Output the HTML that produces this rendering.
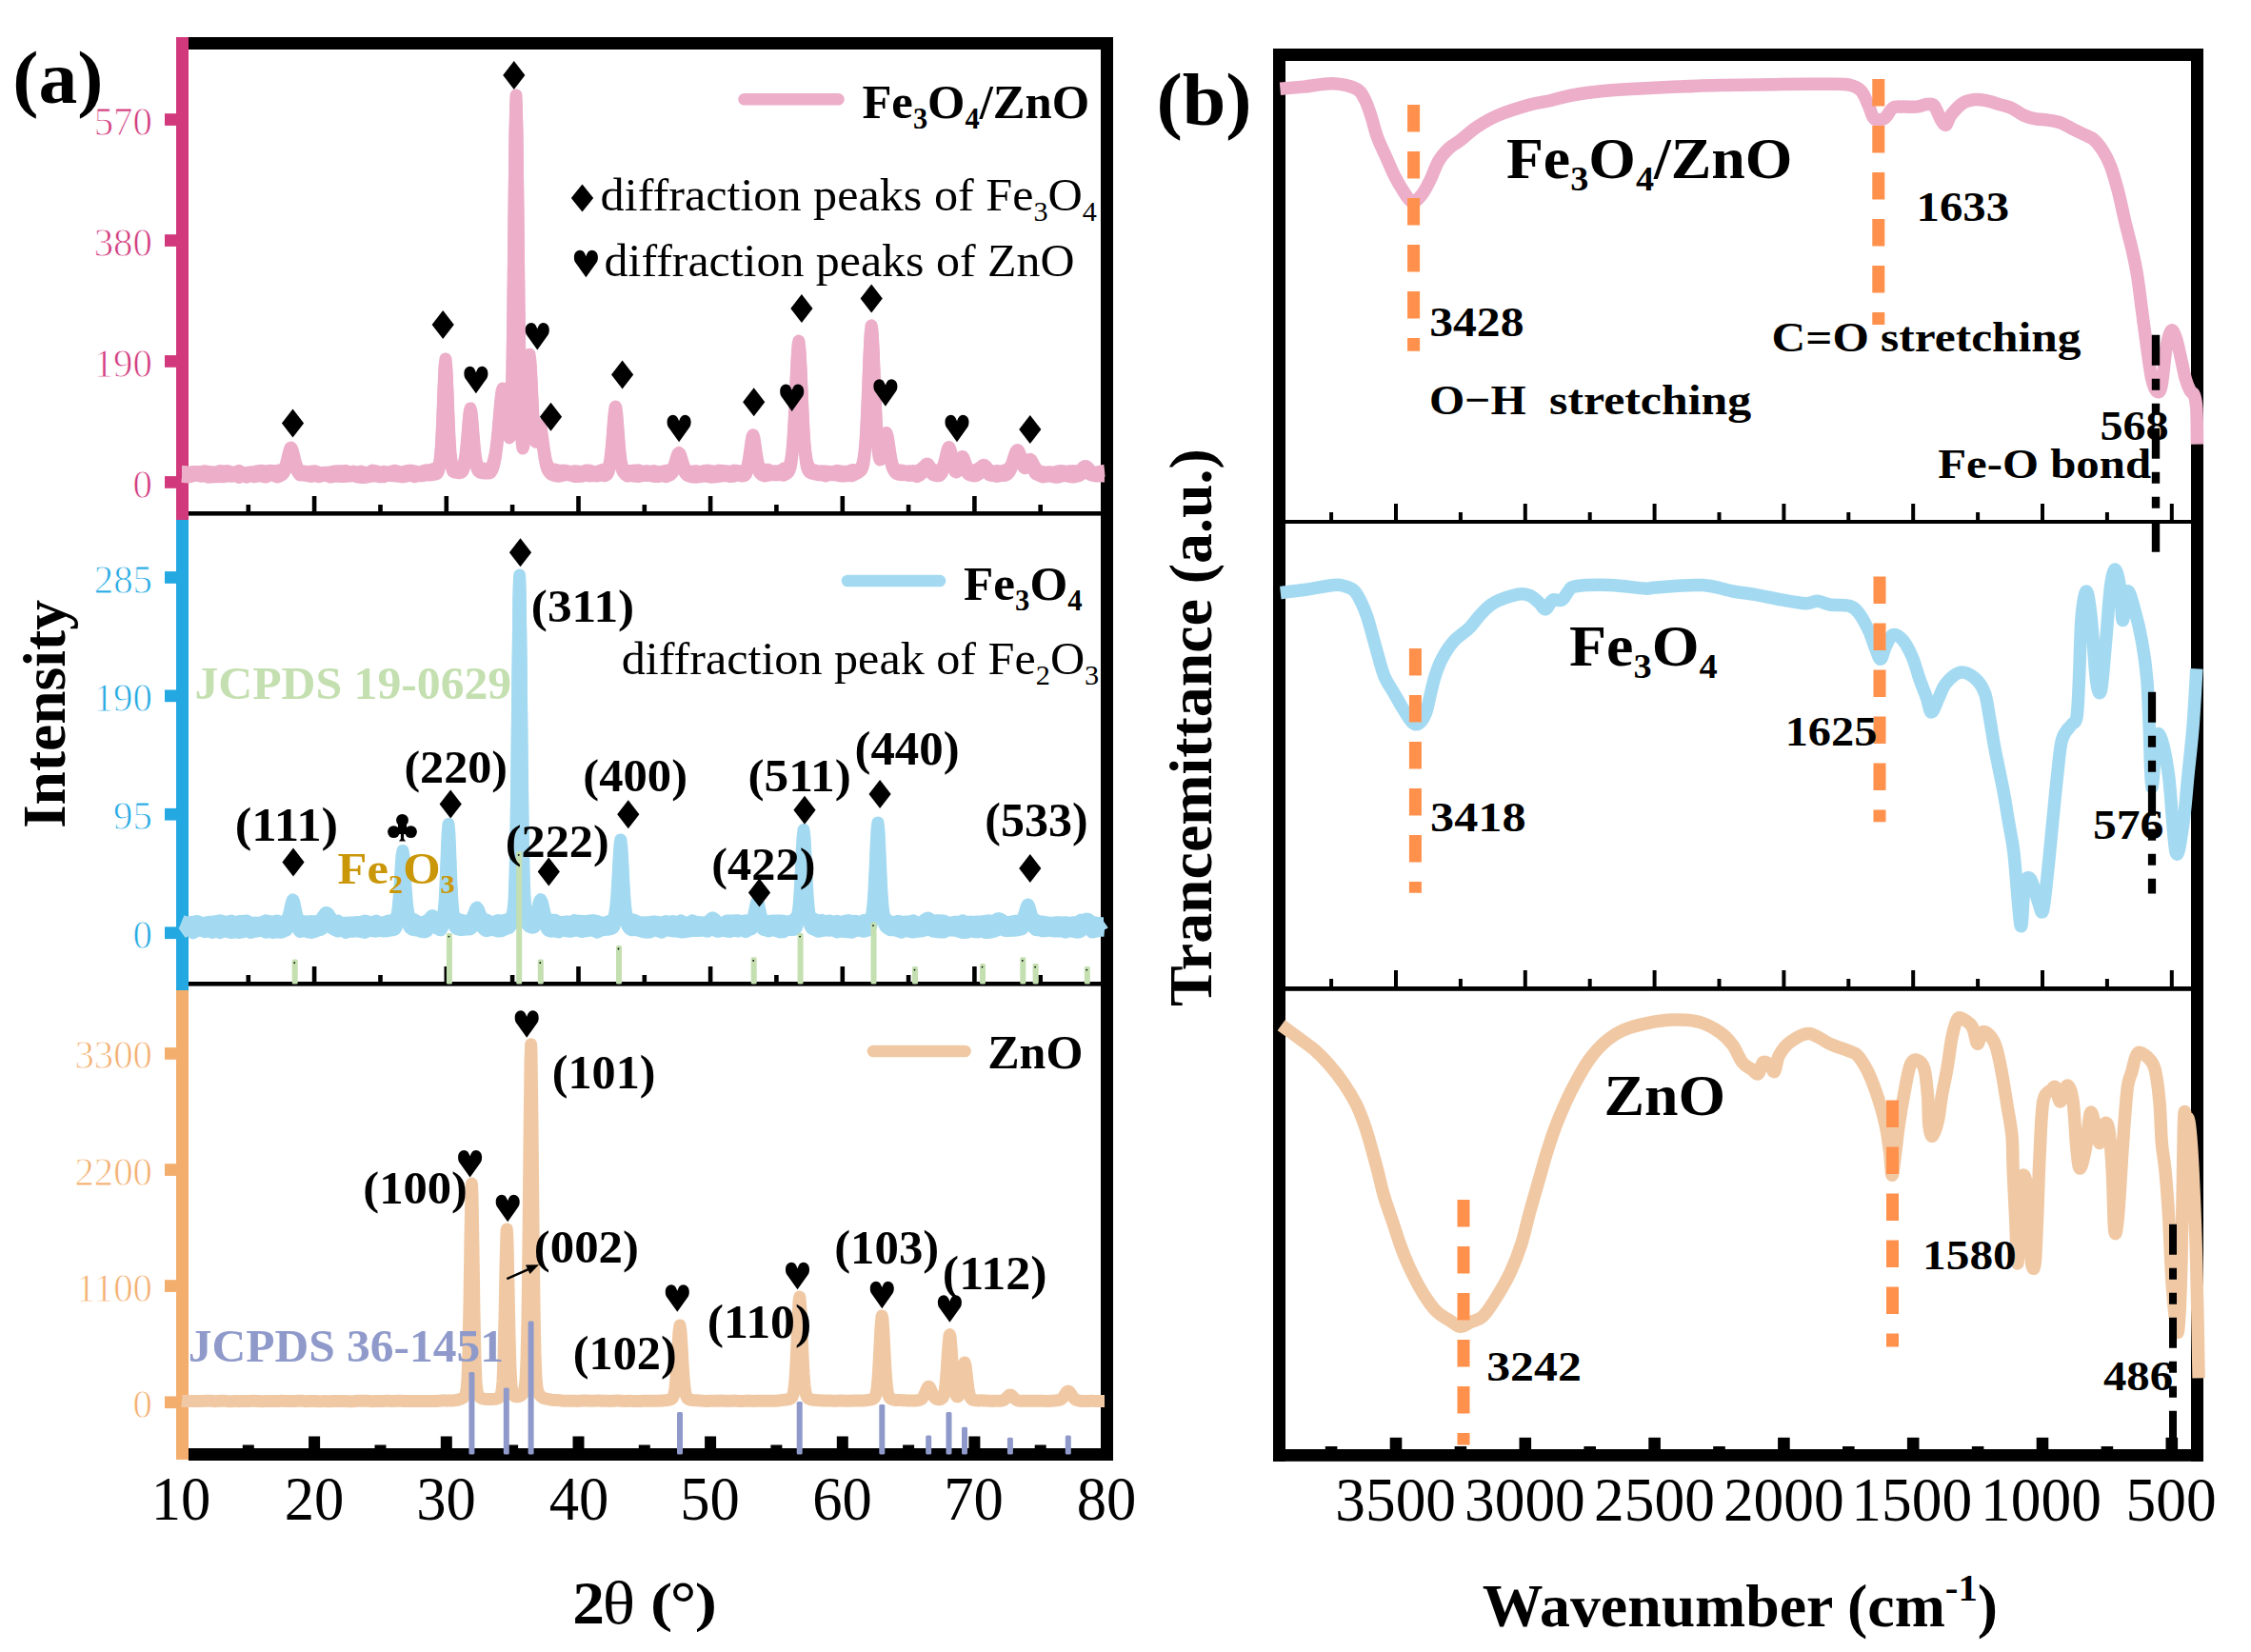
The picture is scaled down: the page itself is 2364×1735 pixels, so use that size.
<!DOCTYPE html>
<html><head><meta charset="utf-8"><style>
html,body{margin:0;padding:0;background:#fff;}
body{width:2364px;height:1735px;overflow:hidden;}
svg{display:block;}
text{font-family:'Liberation Serif',serif;}
</style></head><body>
<svg width="2364" height="1735" viewBox="0 0 2364 1735">
<rect width="2364" height="1735" fill="#fff"/>
<rect x="185.0" y="39.0" width="13.0" height="507.0" fill="#D1397C"/>
<rect x="185.0" y="546.0" width="13.0" height="494.0" fill="#23A8E2"/>
<rect x="185.0" y="1040.0" width="13.0" height="493.0" fill="#F3AE6E"/>
<rect x="173.0" y="119.2" width="12.0" height="12.7" fill="#D1397C"/>
<text x="98.7" y="141.5" font-size="42.0" font-weight="normal" fill="#D1397C" textLength="61.1" lengthAdjust="spacingAndGlyphs" stroke="#fff" stroke-width="0.9">570</text>
<rect x="173.0" y="246.2" width="12.0" height="12.7" fill="#D1397C"/>
<text x="98.7" y="268.5" font-size="42.0" font-weight="normal" fill="#D1397C" textLength="61.1" lengthAdjust="spacingAndGlyphs" stroke="#fff" stroke-width="0.9">380</text>
<rect x="173.0" y="373.1" width="12.0" height="12.7" fill="#D1397C"/>
<text x="98.7" y="395.5" font-size="42.0" font-weight="normal" fill="#D1397C" textLength="61.1" lengthAdjust="spacingAndGlyphs" stroke="#fff" stroke-width="0.9">190</text>
<rect x="173.0" y="500.1" width="12.0" height="12.7" fill="#D1397C"/>
<text x="139.5" y="522.5" font-size="42.0" font-weight="normal" fill="#D1397C" textLength="20.4" lengthAdjust="spacingAndGlyphs" stroke="#fff" stroke-width="0.9">0</text>
<rect x="173.0" y="600.1" width="12.0" height="12.7" fill="#23A8E2"/>
<text x="98.8" y="622.5" font-size="42.0" font-weight="normal" fill="#23A8E2" textLength="61.1" lengthAdjust="spacingAndGlyphs" stroke="#fff" stroke-width="0.9">285</text>
<rect x="173.0" y="724.5" width="12.0" height="12.7" fill="#23A8E2"/>
<text x="98.7" y="746.9" font-size="42.0" font-weight="normal" fill="#23A8E2" textLength="61.1" lengthAdjust="spacingAndGlyphs" stroke="#fff" stroke-width="0.9">190</text>
<rect x="173.0" y="848.9" width="12.0" height="12.7" fill="#23A8E2"/>
<text x="119.1" y="871.3" font-size="42.0" font-weight="normal" fill="#23A8E2" textLength="40.7" lengthAdjust="spacingAndGlyphs" stroke="#fff" stroke-width="0.9">95</text>
<rect x="173.0" y="973.4" width="12.0" height="12.7" fill="#23A8E2"/>
<text x="139.5" y="995.7" font-size="42.0" font-weight="normal" fill="#23A8E2" textLength="20.4" lengthAdjust="spacingAndGlyphs" stroke="#fff" stroke-width="0.9">0</text>
<rect x="173.0" y="1100.1" width="12.0" height="12.7" fill="#F3AE6E"/>
<text x="78.4" y="1122.4" font-size="42.0" font-weight="normal" fill="#F3AE6E" textLength="81.5" lengthAdjust="spacingAndGlyphs" stroke="#fff" stroke-width="0.9">3300</text>
<rect x="173.0" y="1222.2" width="12.0" height="12.7" fill="#F3AE6E"/>
<text x="78.4" y="1244.5" font-size="42.0" font-weight="normal" fill="#F3AE6E" textLength="81.5" lengthAdjust="spacingAndGlyphs" stroke="#fff" stroke-width="0.9">2200</text>
<rect x="173.0" y="1344.2" width="12.0" height="12.7" fill="#F3AE6E"/>
<text x="79.9" y="1366.6" font-size="42.0" font-weight="normal" fill="#F3AE6E" textLength="80.0" lengthAdjust="spacingAndGlyphs" stroke="#fff" stroke-width="0.9">1100</text>
<rect x="173.0" y="1466.4" width="12.0" height="12.7" fill="#F3AE6E"/>
<text x="139.5" y="1488.7" font-size="42.0" font-weight="normal" fill="#F3AE6E" textLength="20.4" lengthAdjust="spacingAndGlyphs" stroke="#fff" stroke-width="0.9">0</text>
<rect x="198.0" y="39.0" width="971.0" height="13.0" fill="#000"/>
<rect x="1156.0" y="39.0" width="13.0" height="1494.0" fill="#000"/>
<rect x="198.0" y="537.0" width="958.0" height="4.6" fill="#000"/>
<rect x="258.5" y="530.0" width="4.6" height="7.0" fill="#000"/>
<rect x="327.8" y="521.0" width="4.6" height="16.0" fill="#000"/>
<rect x="397.2" y="530.0" width="4.6" height="7.0" fill="#000"/>
<rect x="466.5" y="521.0" width="4.6" height="16.0" fill="#000"/>
<rect x="535.8" y="530.0" width="4.6" height="7.0" fill="#000"/>
<rect x="605.2" y="521.0" width="4.6" height="16.0" fill="#000"/>
<rect x="674.5" y="530.0" width="4.6" height="7.0" fill="#000"/>
<rect x="743.8" y="521.0" width="4.6" height="16.0" fill="#000"/>
<rect x="813.1" y="530.0" width="4.6" height="7.0" fill="#000"/>
<rect x="882.5" y="521.0" width="4.6" height="16.0" fill="#000"/>
<rect x="951.8" y="530.0" width="4.6" height="7.0" fill="#000"/>
<rect x="1021.1" y="521.0" width="4.6" height="16.0" fill="#000"/>
<rect x="1090.4" y="530.0" width="4.6" height="7.0" fill="#000"/>
<rect x="198.0" y="1031.0" width="958.0" height="4.6" fill="#000"/>
<rect x="258.5" y="1024.0" width="4.6" height="7.0" fill="#000"/>
<rect x="327.8" y="1015.0" width="4.6" height="16.0" fill="#000"/>
<rect x="397.2" y="1024.0" width="4.6" height="7.0" fill="#000"/>
<rect x="466.5" y="1015.0" width="4.6" height="16.0" fill="#000"/>
<rect x="535.8" y="1024.0" width="4.6" height="7.0" fill="#000"/>
<rect x="605.2" y="1015.0" width="4.6" height="16.0" fill="#000"/>
<rect x="674.5" y="1024.0" width="4.6" height="7.0" fill="#000"/>
<rect x="743.8" y="1015.0" width="4.6" height="16.0" fill="#000"/>
<rect x="813.1" y="1024.0" width="4.6" height="7.0" fill="#000"/>
<rect x="882.5" y="1015.0" width="4.6" height="16.0" fill="#000"/>
<rect x="951.8" y="1024.0" width="4.6" height="7.0" fill="#000"/>
<rect x="1021.1" y="1015.0" width="4.6" height="16.0" fill="#000"/>
<rect x="1090.4" y="1024.0" width="4.6" height="7.0" fill="#000"/>
<rect x="198.0" y="1521.0" width="971.0" height="13.0" fill="#000"/>
<rect x="254.8" y="1517.5" width="12.0" height="3.5" fill="#000"/>
<rect x="324.1" y="1508.5" width="12.0" height="12.5" fill="#000"/>
<rect x="393.5" y="1517.5" width="12.0" height="3.5" fill="#000"/>
<rect x="462.8" y="1508.5" width="12.0" height="12.5" fill="#000"/>
<rect x="532.1" y="1517.5" width="12.0" height="3.5" fill="#000"/>
<rect x="601.5" y="1508.5" width="12.0" height="12.5" fill="#000"/>
<rect x="670.8" y="1517.5" width="12.0" height="3.5" fill="#000"/>
<rect x="740.1" y="1508.5" width="12.0" height="12.5" fill="#000"/>
<rect x="809.4" y="1517.5" width="12.0" height="3.5" fill="#000"/>
<rect x="878.8" y="1508.5" width="12.0" height="12.5" fill="#000"/>
<rect x="948.1" y="1517.5" width="12.0" height="3.5" fill="#000"/>
<rect x="1017.4" y="1508.5" width="12.0" height="12.5" fill="#000"/>
<rect x="1086.7" y="1517.5" width="12.0" height="3.5" fill="#000"/>
<path d="M191.0 495.4 192.0 495.4 193.0 495.5 194.0 495.5 195.0 495.6 196.0 495.8 197.0 496.0 198.0 496.3 199.0 496.5 200.0 496.2 201.0 495.9 202.0 495.7 203.0 495.4 204.0 495.4 205.0 495.4 206.0 495.5 207.0 495.5 208.0 495.5 209.0 495.6 210.0 495.6 211.0 495.7 212.0 495.4 213.0 495.2 214.0 494.9 215.0 494.7 216.0 494.9 217.0 495.1 218.0 495.3 219.0 495.5 220.0 495.6 221.0 495.6 222.0 495.7 223.0 495.8 224.0 495.9 225.0 496.0 226.0 496.1 227.0 496.2 228.0 495.7 229.0 495.3 230.0 494.9 231.0 494.5 232.0 494.6 233.0 494.7 234.0 494.9 235.0 495.0 236.0 494.8 237.0 494.7 238.0 494.6 239.0 494.5 240.0 494.9 241.0 495.3 242.0 495.8 243.0 496.2 244.0 496.1 245.0 496.0 246.0 496.0 247.0 495.9 248.0 495.5 249.0 495.1 250.0 494.7 251.0 494.3 252.0 494.9 253.0 495.5 254.0 496.0 255.0 496.6 256.0 496.6 257.0 496.6 258.0 496.5 259.0 496.5 260.0 496.3 261.0 496.2 262.0 496.0 263.0 495.8 264.0 495.7 265.0 495.7 266.0 495.7 267.0 495.7 268.0 495.4 269.0 495.1 270.0 494.8 271.0 494.6 272.0 494.5 273.0 494.4 274.0 494.3 275.0 494.2 276.0 494.5 277.0 494.8 278.0 495.1 279.0 495.4 280.0 495.1 281.0 494.8 282.0 494.5 283.0 494.2 284.0 494.3 285.0 494.3 286.0 494.4 287.0 494.4 288.0 494.4 289.0 494.4 290.0 494.4 291.0 494.4 292.0 494.2 293.0 494.0 294.0 493.7 295.0 493.4 296.0 493.3 297.0 493.0 298.0 492.2 299.0 490.9 300.0 488.5 301.0 485.2 302.0 481.1 303.0 476.7 304.0 473.0 305.0 470.5 305.7 470.1 306.0 470.3 307.0 472.4 308.0 475.8 309.0 479.9 310.0 484.0 311.0 487.4 312.0 490.2 313.0 492.2 314.0 493.5 315.0 494.3 316.0 494.6 317.0 494.8 318.0 494.9 319.0 494.9 320.0 495.1 321.0 495.2 322.0 495.4 323.0 495.5 324.0 495.4 325.0 495.3 326.0 495.2 327.0 495.1 328.0 495.0 329.0 494.9 330.0 494.8 331.0 494.7 332.0 495.2 333.0 495.6 334.0 496.1 335.0 496.5 336.0 496.5 337.0 496.5 338.0 496.5 339.0 496.5 340.0 496.4 341.0 496.3 342.0 496.3 343.0 496.2 344.0 496.1 345.0 496.0 346.0 495.9 347.0 495.9 348.0 495.6 349.0 495.4 350.0 495.2 351.0 494.9 352.0 494.9 353.0 494.8 354.0 494.8 355.0 494.7 356.0 494.8 357.0 494.8 358.0 494.8 359.0 494.9 360.0 494.7 361.0 494.6 362.0 494.5 363.0 494.3 364.0 494.8 365.0 495.2 366.0 495.6 367.0 496.0 368.0 495.8 369.0 495.6 370.0 495.3 371.0 495.1 372.0 495.4 373.0 495.7 374.0 495.9 375.0 496.2 376.0 495.9 377.0 495.6 378.0 495.4 379.0 495.1 380.0 495.4 381.0 495.8 382.0 496.1 383.0 496.4 384.0 496.4 385.0 496.3 386.0 496.2 387.0 496.2 388.0 495.7 389.0 495.2 390.0 494.6 391.0 494.1 392.0 494.3 393.0 494.4 394.0 494.5 395.0 494.6 396.0 495.0 397.0 495.5 398.0 495.9 399.0 496.3 400.0 496.0 401.0 495.8 402.0 495.5 403.0 495.2 404.0 495.5 405.0 495.8 406.0 496.1 407.0 496.4 408.0 496.1 409.0 495.7 410.0 495.4 411.0 495.0 412.0 494.8 413.0 494.6 414.0 494.4 415.0 494.2 416.0 494.5 417.0 494.9 418.0 495.2 419.0 495.5 420.0 495.6 421.0 495.7 422.0 495.8 423.0 495.9 424.0 495.5 425.0 495.2 426.0 494.9 427.0 494.6 428.0 494.5 429.0 494.3 430.0 494.2 431.0 494.1 432.0 494.2 433.0 494.4 434.0 494.5 435.0 494.6 436.0 495.0 437.0 495.3 438.0 495.7 439.0 496.0 440.0 495.9 441.0 495.7 442.0 495.6 443.0 495.4 444.0 495.0 445.0 494.6 446.0 494.1 447.0 493.7 448.0 493.7 449.0 493.7 450.0 493.7 451.0 493.6 452.0 493.4 453.0 493.2 454.0 492.9 455.0 492.6 456.0 492.4 457.0 492.0 458.0 491.5 459.0 490.8 460.0 490.0 461.0 487.9 462.0 483.2 463.0 473.8 464.0 457.1 465.0 433.7 466.0 406.9 467.0 384.5 467.9 376.9 468.0 377.1 469.0 388.5 470.0 412.3 471.0 438.7 472.0 460.4 473.0 475.2 474.0 483.8 475.0 488.1 476.0 490.1 477.0 490.9 478.0 491.3 479.0 491.4 480.0 491.9 481.0 492.3 482.0 492.6 483.0 492.8 484.0 492.2 485.0 491.2 486.0 489.6 487.0 487.0 488.0 483.1 489.0 476.8 490.0 467.6 491.0 456.1 492.0 443.4 493.0 433.1 494.0 428.9 495.0 432.5 496.0 442.5 497.0 455.1 498.0 467.1 499.0 476.8 500.0 483.3 501.0 487.2 502.0 489.4 503.0 490.5 504.0 491.1 505.0 491.5 506.0 491.7 507.0 491.7 508.0 492.2 509.0 492.5 510.0 492.9 511.0 493.1 512.0 492.8 513.0 492.4 514.0 491.9 515.0 491.1 516.0 489.8 517.0 488.0 518.0 485.3 519.0 481.5 520.0 476.8 521.0 470.4 522.0 462.2 523.0 452.4 524.0 440.7 525.0 428.9 526.0 418.4 527.0 410.8 528.0 407.9 529.0 409.9 530.0 416.2 531.0 425.2 532.0 435.3 533.0 445.0 534.0 452.6 535.0 456.0 536.0 450.9 537.0 431.1 538.0 387.7 539.0 315.7 540.0 222.9 541.0 136.8 542.0 99.9 543.0 136.7 544.0 223.7 545.0 317.8 546.0 391.8 547.0 437.8 548.0 459.6 549.0 466.3 550.0 463.5 551.0 453.6 552.0 438.0 553.0 417.7 554.0 396.0 555.0 378.7 556.0 372.2 557.0 379.6 558.0 397.4 559.0 419.0 560.0 438.1 561.0 451.6 562.0 458.4 563.0 459.3 564.0 456.2 565.0 451.4 566.0 447.3 567.0 446.0 568.0 448.5 569.0 454.3 570.0 461.8 571.0 469.4 572.0 476.3 573.0 481.7 574.0 485.6 575.0 488.2 576.0 490.1 577.0 491.4 578.0 492.3 579.0 493.0 580.0 493.1 581.0 493.1 582.0 493.1 583.0 493.0 584.0 493.4 585.0 493.7 586.0 494.0 587.0 494.3 588.0 494.3 589.0 494.2 590.0 494.1 591.0 494.0 592.0 494.1 593.0 494.2 594.0 494.3 595.0 494.4 596.0 494.8 597.0 495.1 598.0 495.4 599.0 495.8 600.0 495.5 601.0 495.2 602.0 495.0 603.0 494.7 604.0 494.8 605.0 494.8 606.0 494.9 607.0 495.0 608.0 495.2 609.0 495.4 610.0 495.5 611.0 495.7 612.0 495.3 613.0 494.9 614.0 494.5 615.0 494.1 616.0 494.1 617.0 494.0 618.0 494.0 619.0 494.0 620.0 494.4 621.0 494.9 622.0 495.3 623.0 495.7 624.0 495.7 625.0 495.6 626.0 495.5 627.0 495.4 628.0 495.0 629.0 494.6 630.0 494.2 631.0 493.8 632.0 493.6 633.0 493.4 634.0 493.2 635.0 493.0 636.0 493.0 637.0 492.7 638.0 492.0 639.0 490.4 640.0 487.0 641.0 481.3 642.0 472.6 643.0 461.2 644.0 447.7 645.0 435.3 646.0 427.9 646.4 427.0 647.0 428.3 648.0 437.0 649.0 449.9 650.0 463.3 651.0 474.8 652.0 482.9 653.0 488.2 654.0 491.3 655.0 493.0 656.0 493.8 657.0 494.1 658.0 494.3 659.0 494.3 660.0 494.4 661.0 494.4 662.0 494.4 663.0 494.4 664.0 494.3 665.0 494.1 666.0 494.0 667.0 493.9 668.0 493.9 669.0 493.9 670.0 493.9 671.0 493.8 672.0 494.4 673.0 495.0 674.0 495.6 675.0 496.1 676.0 495.7 677.0 495.3 678.0 494.9 679.0 494.5 680.0 494.7 681.0 495.0 682.0 495.3 683.0 495.6 684.0 495.3 685.0 495.1 686.0 494.8 687.0 494.5 688.0 494.9 689.0 495.2 690.0 495.5 691.0 495.9 692.0 495.7 693.0 495.6 694.0 495.4 695.0 495.3 696.0 495.1 697.0 494.9 698.0 494.6 699.0 494.4 700.0 494.3 701.0 494.1 702.0 493.9 703.0 493.7 704.0 493.6 705.0 493.3 706.0 492.6 707.0 491.4 708.0 488.8 709.0 485.5 710.0 482.0 711.0 478.5 712.0 476.2 713.0 475.5 714.0 476.4 715.0 478.9 716.0 482.2 717.0 485.6 718.0 488.6 719.0 491.0 720.0 492.8 721.0 494.0 722.0 494.8 723.0 495.3 724.0 495.4 725.0 495.4 726.0 495.3 727.0 495.2 728.0 495.1 729.0 494.9 730.0 494.7 731.0 494.6 732.0 495.0 733.0 495.4 734.0 495.8 735.0 496.1 736.0 495.7 737.0 495.3 738.0 494.9 739.0 494.5 740.0 494.4 741.0 494.3 742.0 494.1 743.0 494.0 744.0 494.2 745.0 494.3 746.0 494.5 747.0 494.7 748.0 494.8 749.0 494.9 750.0 495.0 751.0 495.1 752.0 494.8 753.0 494.6 754.0 494.4 755.0 494.1 756.0 494.2 757.0 494.3 758.0 494.3 759.0 494.4 760.0 494.5 761.0 494.6 762.0 494.7 763.0 494.8 764.0 494.9 765.0 495.0 766.0 495.1 767.0 495.2 768.0 495.0 769.0 494.7 770.0 494.4 771.0 494.1 772.0 494.2 773.0 494.3 774.0 494.4 775.0 494.5 776.0 494.7 777.0 495.0 778.0 495.2 779.0 495.4 780.0 495.3 781.0 495.0 782.0 494.6 783.0 493.8 784.0 492.0 785.0 489.0 786.0 484.5 787.0 478.2 788.0 471.0 789.0 463.6 790.0 458.3 790.8 456.8 791.0 456.9 792.0 460.0 793.0 466.3 794.0 473.8 795.0 480.6 796.0 485.7 797.0 489.1 798.0 491.1 799.0 492.0 800.0 492.6 801.0 492.9 802.0 493.0 803.0 493.1 804.0 493.2 805.0 493.2 806.0 493.2 807.0 493.3 808.0 493.8 809.0 494.3 810.0 494.9 811.0 495.4 812.0 495.2 813.0 495.1 814.0 494.9 815.0 494.7 816.0 494.8 817.0 494.9 818.0 494.9 819.0 495.0 820.0 494.3 821.0 493.6 822.0 492.8 823.0 492.0 824.0 492.1 825.0 492.2 826.0 492.1 827.0 491.8 828.0 490.7 829.0 488.9 830.0 485.9 831.0 480.8 832.0 472.8 833.0 460.6 834.0 443.9 835.0 423.0 836.0 399.6 837.0 377.8 838.0 362.4 838.8 358.1 839.0 358.3 840.0 367.5 841.0 386.2 842.0 409.4 843.0 432.4 844.0 451.4 845.0 465.9 846.0 475.9 847.0 482.1 848.0 486.5 849.0 489.1 850.0 490.8 851.0 491.9 852.0 492.5 853.0 493.1 854.0 493.5 855.0 493.8 856.0 494.1 857.0 494.4 858.0 494.7 859.0 494.9 860.0 494.9 861.0 494.9 862.0 494.9 863.0 494.8 864.0 494.9 865.0 494.9 866.0 494.9 867.0 494.9 868.0 495.0 869.0 495.1 870.0 495.2 871.0 495.3 872.0 495.4 873.0 495.4 874.0 495.5 875.0 495.6 876.0 495.3 877.0 494.9 878.0 494.6 879.0 494.2 880.0 494.4 881.0 494.6 882.0 494.8 883.0 495.0 884.0 495.1 885.0 495.2 886.0 495.2 887.0 495.3 888.0 495.3 889.0 495.2 890.0 495.1 891.0 495.0 892.0 494.7 893.0 494.3 894.0 493.9 895.0 493.5 896.0 493.6 897.0 493.6 898.0 493.7 899.0 493.6 900.0 493.4 901.0 493.1 902.0 492.7 903.0 492.1 904.0 491.0 905.0 489.3 906.0 486.4 907.0 481.7 908.0 474.1 909.0 462.4 910.0 445.6 911.0 423.8 912.0 398.3 913.0 372.8 914.0 352.1 915.0 342.1 915.2 341.8 916.0 346.5 917.0 363.3 918.0 387.4 919.0 413.2 920.0 436.4 921.0 454.8 922.0 467.7 923.0 475.3 924.0 478.3 925.0 477.8 926.0 474.6 927.0 469.4 928.0 463.9 929.0 458.6 930.0 455.0 930.8 454.4 931.0 454.6 932.0 457.5 933.0 463.2 934.0 470.0 935.0 476.8 936.0 482.4 937.0 486.8 938.0 489.8 939.0 491.8 940.0 492.9 941.0 493.6 942.0 493.9 943.0 494.1 944.0 494.1 945.0 494.1 946.0 494.0 947.0 493.9 948.0 494.2 949.0 494.5 950.0 494.8 951.0 495.0 952.0 495.0 953.0 494.9 954.0 494.9 955.0 494.8 956.0 494.8 957.0 494.7 958.0 494.6 959.0 494.5 960.0 494.8 961.0 495.0 962.0 495.2 963.0 495.4 964.0 494.8 965.0 494.1 966.0 493.3 967.0 492.2 968.0 491.7 969.0 491.0 970.0 490.2 971.0 489.4 972.0 488.0 973.0 487.2 974.0 487.1 975.0 487.6 976.0 489.2 977.0 490.7 978.0 492.2 979.0 493.3 980.0 493.9 981.0 494.1 982.0 494.3 983.0 494.3 984.0 494.1 985.0 493.9 986.0 493.5 987.0 493.0 988.0 492.7 989.0 491.9 990.0 490.4 991.0 488.2 992.0 484.6 993.0 480.4 994.0 476.0 995.0 472.1 996.0 469.9 996.5 469.6 997.0 469.9 998.0 472.2 999.0 476.0 1000.0 480.5 1001.0 484.6 1002.0 488.1 1003.0 490.4 1004.0 491.2 1005.0 490.8 1006.0 489.4 1007.0 487.1 1008.0 484.4 1009.0 481.8 1010.0 479.9 1010.7 479.4 1011.0 479.4 1012.0 481.0 1013.0 483.6 1014.0 486.6 1015.0 489.3 1016.0 491.4 1017.0 493.0 1018.0 494.0 1019.0 494.6 1020.0 494.6 1021.0 494.4 1022.0 494.1 1023.0 493.8 1024.0 493.7 1025.0 493.4 1026.0 493.0 1027.0 492.4 1028.0 491.9 1029.0 491.2 1030.0 490.4 1031.0 489.6 1032.0 488.6 1032.9 488.2 1033.0 488.2 1034.0 488.5 1035.0 489.3 1036.0 490.4 1037.0 491.6 1038.0 492.5 1039.0 493.3 1040.0 494.1 1041.0 494.8 1042.0 495.3 1043.0 495.7 1044.0 495.4 1045.0 495.1 1046.0 494.8 1047.0 494.4 1048.0 494.6 1049.0 494.8 1050.0 495.0 1051.0 495.2 1052.0 494.8 1053.0 494.5 1054.0 494.1 1055.0 493.7 1056.0 493.6 1057.0 493.4 1058.0 493.0 1059.0 492.4 1060.0 491.4 1061.0 490.0 1062.0 488.1 1063.0 485.6 1064.0 482.6 1065.0 479.5 1066.0 476.5 1067.0 474.1 1068.0 472.7 1068.5 472.5 1069.0 472.6 1070.0 473.9 1071.0 476.3 1072.0 478.9 1073.0 481.5 1074.0 483.8 1075.0 485.4 1076.0 486.6 1077.0 486.9 1078.0 486.3 1079.0 485.2 1080.0 483.7 1081.0 482.6 1081.8 482.3 1082.0 482.3 1083.0 483.0 1084.0 484.6 1085.0 486.6 1086.0 488.6 1087.0 490.2 1088.0 491.8 1089.0 493.0 1090.0 493.8 1091.0 494.4 1092.0 494.9 1093.0 495.2 1094.0 495.5 1095.0 495.8 1096.0 495.8 1097.0 495.9 1098.0 495.9 1099.0 495.9 1100.0 495.9 1101.0 495.8 1102.0 495.8 1103.0 495.7 1104.0 495.9 1105.0 496.0 1106.0 496.2 1107.0 496.3 1108.0 495.9 1109.0 495.5 1110.0 495.1 1111.0 494.7 1112.0 494.7 1113.0 494.6 1114.0 494.6 1115.0 494.5 1116.0 494.7 1117.0 494.8 1118.0 495.0 1119.0 495.2 1120.0 495.1 1121.0 495.0 1122.0 494.9 1123.0 494.8 1124.0 494.7 1125.0 494.7 1126.0 494.6 1127.0 494.6 1128.0 494.7 1129.0 494.7 1130.0 494.8 1131.0 494.7 1132.0 494.6 1133.0 494.4 1134.0 493.9 1135.0 493.3 1136.0 492.3 1137.0 491.2 1138.0 490.2 1139.0 489.6 1139.6 489.4 1140.0 489.4 1141.0 489.8 1142.0 490.5 1143.0 491.4 1144.0 492.7 1145.0 493.8 1146.0 494.8 1147.0 495.5 1148.0 495.8 1149.0 496.1 1150.0 496.3 1151.0 496.4 1152.0 496.1 1153.0 495.8 1154.0 495.5 1155.0 495.2 1156.0 495.0 1157.0 494.8 1158.0 494.6 1159.0 494.4 1160.0 494.3" fill="none" stroke="#ECAEC9" stroke-width="13" stroke-linejoin="round"/>
<path d="M191.0 500.4 192.0 500.5 193.0 500.6 194.0 500.7 195.0 500.8 196.0 500.8 197.0 500.9 198.0 500.9 199.0 500.9 200.0 500.5 201.0 500.2 202.0 499.9 203.0 499.6 204.0 499.5 205.0 499.4 206.0 499.4 207.0 499.3 208.0 499.5 209.0 499.7 210.0 499.9 211.0 500.2 212.0 500.1 213.0 500.0 214.0 500.0 215.0 499.9 216.0 500.2 217.0 500.6 218.0 500.9 219.0 501.2 220.0 501.1 221.0 501.1 222.0 501.0 223.0 500.9 224.0 500.9 225.0 500.8 226.0 500.8 227.0 500.7 228.0 500.7 229.0 500.6 230.0 500.6 231.0 500.6 232.0 500.7 233.0 500.7 234.0 500.8 235.0 500.8 236.0 500.5 237.0 500.2 238.0 499.9 239.0 499.6 240.0 499.8 241.0 499.9 242.0 500.1 243.0 500.3 244.0 500.1 245.0 500.0 246.0 499.8 247.0 499.6 248.0 500.1 249.0 500.5 250.0 501.0 251.0 501.4 252.0 500.9 253.0 500.4 254.0 499.9 255.0 499.4 256.0 499.8 257.0 500.3 258.0 500.7 259.0 501.2 260.0 500.7 261.0 500.3 262.0 499.8 263.0 499.4 264.0 499.7 265.0 500.1 266.0 500.5 267.0 500.8 268.0 500.6 269.0 500.4 270.0 500.2 271.0 500.0 272.0 500.0 273.0 500.1 274.0 500.1 275.0 500.1 276.0 500.4 277.0 500.6 278.0 500.9 279.0 501.1 280.0 500.6 281.0 500.1 282.0 499.6 283.0 499.1 284.0 499.1 285.0 499.1 286.0 499.1 287.0 499.1 288.0 499.6 289.0 500.1 290.0 500.5 291.0 501.0 292.0 500.7 293.0 500.4 294.0 500.0 295.0 499.5 296.0 499.0 297.0 498.1 298.0 496.9 299.0 495.0 300.0 493.1 301.0 490.4 302.0 486.9 303.0 483.0 304.0 479.0 305.0 476.3 305.7 475.7 306.0 475.8 307.0 477.7 308.0 480.7 309.0 484.6 310.0 488.3 311.0 491.4 312.0 494.4 313.0 496.5 314.0 497.9 315.0 498.8 316.0 499.0 317.0 499.1 318.0 499.1 319.0 499.0 320.0 499.2 321.0 499.4 322.0 499.5 323.0 499.7 324.0 499.9 325.0 500.1 326.0 500.3 327.0 500.5 328.0 500.2 329.0 500.0 330.0 499.7 331.0 499.5 332.0 499.8 333.0 500.1 334.0 500.5 335.0 500.8 336.0 500.4 337.0 500.0 338.0 499.6 339.0 499.3 340.0 499.3 341.0 499.4 342.0 499.5 343.0 499.6 344.0 499.9 345.0 500.3 346.0 500.7 347.0 501.1 348.0 500.9 349.0 500.6 350.0 500.4 351.0 500.1 352.0 500.1 353.0 500.1 354.0 500.2 355.0 500.2 356.0 500.3 357.0 500.4 358.0 500.5 359.0 500.6 360.0 500.5 361.0 500.5 362.0 500.4 363.0 500.3 364.0 500.3 365.0 500.2 366.0 500.1 367.0 500.1 368.0 499.9 369.0 499.7 370.0 499.4 371.0 499.2 372.0 499.7 373.0 500.1 374.0 500.5 375.0 500.9 376.0 501.0 377.0 501.2 378.0 501.3 379.0 501.5 380.0 501.5 381.0 501.5 382.0 501.5 383.0 501.5 384.0 501.3 385.0 501.1 386.0 500.9 387.0 500.7 388.0 500.5 389.0 500.4 390.0 500.2 391.0 500.0 392.0 500.0 393.0 500.0 394.0 500.0 395.0 500.0 396.0 500.2 397.0 500.4 398.0 500.6 399.0 500.8 400.0 500.8 401.0 500.7 402.0 500.7 403.0 500.7 404.0 500.4 405.0 500.0 406.0 499.7 407.0 499.4 408.0 499.4 409.0 499.5 410.0 499.6 411.0 499.6 412.0 499.7 413.0 499.8 414.0 499.8 415.0 499.9 416.0 500.0 417.0 500.1 418.0 500.2 419.0 500.2 420.0 500.4 421.0 500.6 422.0 500.8 423.0 500.9 424.0 500.7 425.0 500.5 426.0 500.3 427.0 500.1 428.0 499.8 429.0 499.6 430.0 499.3 431.0 499.0 432.0 499.4 433.0 499.9 434.0 500.3 435.0 500.8 436.0 500.5 437.0 500.3 438.0 500.0 439.0 499.8 440.0 499.8 441.0 499.8 442.0 499.8 443.0 499.8 444.0 499.6 445.0 499.4 446.0 499.2 447.0 498.9 448.0 499.0 449.0 499.0 450.0 499.1 451.0 499.1 452.0 498.9 453.0 498.8 454.0 498.6 455.0 498.3 456.0 498.3 457.0 498.2 458.0 498.0 459.0 497.5 460.0 495.9 461.0 493.0 462.0 487.4 463.0 477.2 464.0 461.1 465.0 438.3 466.0 412.2 467.0 390.4 467.9 382.4 468.0 382.5 469.0 393.4 470.0 416.9 471.0 442.8 472.0 464.9 473.0 480.1 474.0 489.0 475.0 493.7 476.0 495.4 477.0 496.0 478.0 496.1 479.0 496.0 480.0 496.4 481.0 496.6 482.0 496.7 483.0 496.7 484.0 496.5 485.0 495.9 486.0 494.8 487.0 492.5 488.0 488.5 489.0 482.1 490.0 472.7 491.0 461.1 492.0 448.3 493.0 438.0 494.0 433.8 495.0 437.3 496.0 447.4 497.0 460.1 498.0 472.1 499.0 481.8 500.0 488.3 501.0 492.3 502.0 494.4 503.0 495.5 504.0 496.1 505.0 496.5 506.0 496.7 507.0 496.8 508.0 496.9 509.0 497.0 510.0 497.0 511.0 497.0 512.0 497.0 513.0 497.0 514.0 496.9 515.0 496.5 516.0 495.2 517.0 493.4 518.0 490.7 519.0 486.9 520.0 482.2 521.0 475.7 522.0 467.5 523.0 457.6 524.0 445.8 525.0 434.0 526.0 423.4 527.0 415.7 528.0 413.2 529.0 415.5 530.0 422.1 531.0 431.4 532.0 441.0 533.0 450.0 534.0 457.0 535.0 459.8 536.0 454.8 537.0 434.9 538.0 391.6 539.0 319.6 540.0 227.5 541.0 142.1 542.0 105.8 543.0 143.3 544.0 229.8 545.0 323.5 546.0 397.0 547.0 442.6 548.0 464.3 549.0 471.0 550.0 468.1 551.0 458.1 552.0 442.6 553.0 422.4 554.0 400.9 555.0 383.7 556.0 377.2 557.0 384.6 558.0 402.4 559.0 424.0 560.0 443.1 561.0 456.6 562.0 463.4 563.0 464.3 564.0 461.2 565.0 456.3 566.0 452.2 567.0 450.9 568.0 453.4 569.0 459.1 570.0 466.6 571.0 474.2 572.0 481.1 573.0 486.6 574.0 490.5 575.0 493.1 576.0 495.1 577.0 496.4 578.0 497.3 579.0 498.1 580.0 498.6 581.0 499.0 582.0 499.4 583.0 499.8 584.0 499.9 585.0 500.1 586.0 500.2 587.0 500.3 588.0 500.0 589.0 499.8 590.0 499.6 591.0 499.3 592.0 499.1 593.0 498.9 594.0 498.6 595.0 498.4 596.0 498.6 597.0 498.8 598.0 499.0 599.0 499.2 600.0 499.5 601.0 499.8 602.0 500.1 603.0 500.4 604.0 500.5 605.0 500.5 606.0 500.6 607.0 500.6 608.0 500.5 609.0 500.4 610.0 500.3 611.0 500.2 612.0 499.9 613.0 499.7 614.0 499.4 615.0 499.2 616.0 499.4 617.0 499.5 618.0 499.7 619.0 499.9 620.0 499.9 621.0 499.8 622.0 499.8 623.0 499.7 624.0 499.8 625.0 499.8 626.0 499.9 627.0 499.9 628.0 499.7 629.0 499.4 630.0 499.1 631.0 498.8 632.0 499.1 633.0 499.4 634.0 499.6 635.0 499.8 636.0 499.4 637.0 498.8 638.0 497.8 639.0 495.8 640.0 491.8 641.0 485.5 642.0 476.3 643.0 464.3 644.0 451.3 645.0 439.5 646.0 432.6 646.4 432.0 647.0 433.5 648.0 442.1 649.0 454.9 650.0 468.2 651.0 479.6 652.0 487.4 653.0 492.4 654.0 495.2 655.0 496.6 656.0 497.9 657.0 498.8 658.0 499.5 659.0 500.1 660.0 500.0 661.0 499.9 662.0 499.8 663.0 499.6 664.0 499.8 665.0 500.0 666.0 500.1 667.0 500.3 668.0 500.3 669.0 500.4 670.0 500.4 671.0 500.4 672.0 500.2 673.0 499.9 674.0 499.6 675.0 499.3 676.0 499.4 677.0 499.5 678.0 499.5 679.0 499.6 680.0 499.6 681.0 499.5 682.0 499.5 683.0 499.5 684.0 499.8 685.0 500.0 686.0 500.3 687.0 500.6 688.0 500.6 689.0 500.6 690.0 500.6 691.0 500.6 692.0 500.2 693.0 499.9 694.0 499.5 695.0 499.2 696.0 499.6 697.0 500.0 698.0 500.4 699.0 500.8 700.0 500.5 701.0 500.1 702.0 499.7 703.0 499.3 704.0 498.8 705.0 498.0 706.0 496.9 707.0 495.2 708.0 493.1 709.0 490.4 710.0 487.3 711.0 484.4 712.0 482.4 713.0 481.8 714.0 483.0 715.0 485.7 716.0 488.5 717.0 491.5 718.0 494.0 719.0 496.0 720.0 497.6 721.0 498.7 722.0 499.4 723.0 499.8 724.0 500.2 725.0 500.5 726.0 500.7 727.0 501.0 728.0 501.0 729.0 501.1 730.0 501.1 731.0 501.2 732.0 501.1 733.0 501.0 734.0 500.9 735.0 500.8 736.0 500.6 737.0 500.4 738.0 500.2 739.0 500.0 740.0 500.1 741.0 500.2 742.0 500.3 743.0 500.4 744.0 500.6 745.0 500.8 746.0 501.0 747.0 501.2 748.0 501.1 749.0 501.0 750.0 501.0 751.0 500.9 752.0 500.8 753.0 500.6 754.0 500.5 755.0 500.4 756.0 500.2 757.0 500.1 758.0 499.9 759.0 499.8 760.0 499.8 761.0 499.8 762.0 499.8 763.0 499.8 764.0 500.0 765.0 500.2 766.0 500.4 767.0 500.6 768.0 500.5 769.0 500.4 770.0 500.3 771.0 500.1 772.0 499.8 773.0 499.4 774.0 499.0 775.0 498.6 776.0 499.0 777.0 499.3 778.0 499.6 779.0 499.9 780.0 499.9 781.0 499.7 782.0 499.4 783.0 498.6 784.0 496.9 785.0 494.1 786.0 489.7 787.0 483.6 788.0 476.3 789.0 469.1 790.0 463.7 790.8 462.2 791.0 462.3 792.0 465.6 793.0 472.0 794.0 479.5 795.0 486.4 796.0 491.5 797.0 495.0 798.0 497.0 799.0 498.0 800.0 498.8 801.0 499.3 802.0 499.6 803.0 499.9 804.0 499.7 805.0 499.6 806.0 499.3 807.0 499.1 808.0 499.0 809.0 498.8 810.0 498.6 811.0 498.4 812.0 498.6 813.0 498.7 814.0 498.8 815.0 498.9 816.0 498.8 817.0 498.7 818.0 498.6 819.0 498.4 820.0 498.7 821.0 498.9 822.0 499.1 823.0 499.2 824.0 498.8 825.0 498.3 826.0 497.7 827.0 497.0 828.0 495.9 829.0 494.1 830.0 491.0 831.0 485.9 832.0 477.8 833.0 465.6 834.0 448.7 835.0 427.7 836.0 404.3 837.0 382.4 838.0 367.0 838.8 362.7 839.0 362.9 840.0 371.9 841.0 390.4 842.0 413.4 843.0 436.3 844.0 455.9 845.0 471.1 846.0 481.7 847.0 488.6 848.0 492.5 849.0 494.7 850.0 495.9 851.0 496.5 852.0 497.0 853.0 497.3 854.0 497.5 855.0 497.7 856.0 498.0 857.0 498.2 858.0 498.5 859.0 498.7 860.0 498.8 861.0 498.8 862.0 498.8 863.0 498.8 864.0 499.1 865.0 499.4 866.0 499.7 867.0 499.9 868.0 499.6 869.0 499.3 870.0 499.0 871.0 498.7 872.0 498.7 873.0 498.7 874.0 498.6 875.0 498.6 876.0 498.8 877.0 498.9 878.0 499.0 879.0 499.1 880.0 499.4 881.0 499.6 882.0 499.8 883.0 500.0 884.0 500.0 885.0 500.0 886.0 500.0 887.0 500.0 888.0 499.9 889.0 499.8 890.0 499.6 891.0 499.5 892.0 499.6 893.0 499.7 894.0 499.7 895.0 499.8 896.0 499.3 897.0 498.7 898.0 498.2 899.0 497.6 900.0 497.1 901.0 496.6 902.0 495.9 903.0 495.1 904.0 494.4 905.0 493.2 906.0 490.8 907.0 486.5 908.0 478.9 909.0 467.1 910.0 450.2 911.0 428.3 912.0 402.9 913.0 377.3 914.0 356.6 915.0 346.6 915.2 346.4 916.0 351.2 917.0 368.2 918.0 392.4 919.0 418.4 920.0 441.4 921.0 459.6 922.0 472.2 923.0 479.7 924.0 482.9 925.0 482.7 926.0 479.7 927.0 474.8 928.0 469.0 929.0 463.4 930.0 459.6 930.8 458.7 931.0 458.8 932.0 461.9 933.0 467.7 934.0 474.7 935.0 481.7 936.0 486.8 937.0 490.7 938.0 493.2 939.0 494.7 940.0 496.1 941.0 497.1 942.0 497.7 943.0 498.2 944.0 498.4 945.0 498.5 946.0 498.6 947.0 498.6 948.0 498.7 949.0 498.7 950.0 498.7 951.0 498.7 952.0 498.9 953.0 499.1 954.0 499.3 955.0 499.5 956.0 499.4 957.0 499.2 958.0 499.1 959.0 499.0 960.0 499.4 961.0 499.8 962.0 500.2 963.0 500.6 964.0 500.2 965.0 499.7 966.0 499.1 967.0 498.2 968.0 497.5 969.0 496.5 970.0 495.3 971.0 494.2 972.0 493.0 973.0 492.3 974.0 492.3 975.0 492.9 976.0 494.3 977.0 495.7 978.0 497.0 979.0 498.0 980.0 498.7 981.0 499.1 982.0 499.4 983.0 499.6 984.0 499.7 985.0 499.8 986.0 499.7 987.0 499.5 988.0 498.5 989.0 497.1 990.0 495.0 991.0 492.1 992.0 488.8 993.0 484.8 994.0 480.6 995.0 477.0 996.0 475.0 996.5 474.8 997.0 475.2 998.0 477.6 999.0 481.6 1000.0 485.8 1001.0 489.8 1002.0 493.0 1003.0 495.2 1004.0 496.0 1005.0 495.6 1006.0 494.3 1007.0 492.0 1008.0 489.7 1009.0 487.4 1010.0 485.8 1010.7 485.5 1011.0 485.7 1012.0 487.2 1013.0 489.8 1014.0 492.7 1015.0 495.4 1016.0 497.1 1017.0 498.2 1018.0 498.7 1019.0 499.0 1020.0 499.3 1021.0 499.6 1022.0 499.8 1023.0 500.0 1024.0 499.8 1025.0 499.6 1026.0 499.2 1027.0 498.6 1028.0 497.8 1029.0 496.9 1030.0 495.8 1031.0 494.8 1032.0 493.7 1032.9 493.2 1033.0 493.1 1034.0 493.3 1035.0 494.0 1036.0 495.4 1037.0 496.7 1038.0 497.9 1039.0 498.8 1040.0 499.2 1041.0 499.4 1042.0 499.5 1043.0 499.4 1044.0 499.7 1045.0 499.9 1046.0 500.2 1047.0 500.4 1048.0 500.2 1049.0 499.9 1050.0 499.6 1051.0 499.3 1052.0 499.4 1053.0 499.4 1054.0 499.5 1055.0 499.4 1056.0 499.1 1057.0 498.7 1058.0 498.1 1059.0 497.2 1060.0 496.0 1061.0 494.3 1062.0 492.1 1063.0 489.4 1064.0 486.3 1065.0 483.0 1066.0 479.8 1067.0 477.2 1068.0 475.9 1068.5 475.7 1069.0 475.9 1070.0 477.3 1071.0 479.7 1072.0 482.8 1073.0 485.9 1074.0 488.7 1075.0 490.8 1076.0 491.7 1077.0 491.7 1078.0 490.8 1079.0 489.4 1080.0 487.9 1081.0 486.8 1081.8 486.6 1082.0 486.6 1083.0 487.4 1084.0 489.6 1085.0 492.1 1086.0 494.6 1087.0 496.8 1088.0 497.9 1089.0 498.5 1090.0 498.8 1091.0 498.9 1092.0 499.5 1093.0 500.1 1094.0 500.5 1095.0 501.0 1096.0 500.9 1097.0 500.7 1098.0 500.5 1099.0 500.3 1100.0 500.2 1101.0 500.1 1102.0 500.0 1103.0 499.9 1104.0 500.2 1105.0 500.5 1106.0 500.8 1107.0 501.1 1108.0 501.2 1109.0 501.2 1110.0 501.2 1111.0 501.2 1112.0 500.9 1113.0 500.6 1114.0 500.2 1115.0 499.9 1116.0 499.8 1117.0 499.6 1118.0 499.5 1119.0 499.4 1120.0 499.7 1121.0 500.0 1122.0 500.3 1123.0 500.6 1124.0 500.7 1125.0 500.9 1126.0 501.0 1127.0 501.1 1128.0 500.9 1129.0 500.7 1130.0 500.5 1131.0 500.2 1132.0 500.1 1133.0 499.8 1134.0 499.3 1135.0 498.7 1136.0 497.5 1137.0 496.3 1138.0 495.2 1139.0 494.4 1139.6 494.4 1140.0 494.5 1141.0 495.1 1142.0 496.0 1143.0 497.2 1144.0 497.9 1145.0 498.5 1146.0 498.9 1147.0 499.1 1148.0 499.5 1149.0 499.7 1150.0 499.9 1151.0 500.0 1152.0 500.0 1153.0 500.1 1154.0 500.1 1155.0 500.1 1156.0 500.1 1157.0 500.1 1158.0 500.1 1159.0 500.1 1160.0 500.1" fill="none" stroke="#ECAEC9" stroke-width="13" stroke-linejoin="round"/>
<path d="M191.0 967.3 192.0 967.7 193.0 968.1 194.0 968.5 195.0 968.9 196.0 968.8 197.0 968.8 198.0 968.7 199.0 968.7 200.0 968.6 201.0 968.5 202.0 968.3 203.0 968.2 204.0 968.0 205.0 967.8 206.0 967.6 207.0 967.4 208.0 967.9 209.0 968.3 210.0 968.7 211.0 969.2 212.0 969.2 213.0 969.2 214.0 969.2 215.0 969.2 216.0 969.0 217.0 968.8 218.0 968.5 219.0 968.3 220.0 968.3 221.0 968.3 222.0 968.3 223.0 968.3 224.0 968.1 225.0 967.9 226.0 967.7 227.0 967.5 228.0 967.3 229.0 967.1 230.0 967.0 231.0 966.8 232.0 967.1 233.0 967.3 234.0 967.6 235.0 967.9 236.0 968.0 237.0 968.2 238.0 968.4 239.0 968.5 240.0 968.1 241.0 967.7 242.0 967.4 243.0 967.0 244.0 967.5 245.0 968.1 246.0 968.6 247.0 969.1 248.0 968.7 249.0 968.3 250.0 967.9 251.0 967.5 252.0 967.5 253.0 967.5 254.0 967.5 255.0 967.5 256.0 967.3 257.0 967.2 258.0 967.0 259.0 966.9 260.0 967.6 261.0 968.3 262.0 969.0 263.0 969.7 264.0 969.5 265.0 969.3 266.0 969.2 267.0 969.0 268.0 969.1 269.0 969.2 270.0 969.3 271.0 969.4 272.0 969.2 273.0 969.0 274.0 968.8 275.0 968.6 276.0 968.1 277.0 967.7 278.0 967.2 279.0 966.8 280.0 967.0 281.0 967.2 282.0 967.4 283.0 967.7 284.0 967.8 285.0 967.9 286.0 968.0 287.0 968.1 288.0 967.8 289.0 967.5 290.0 967.2 291.0 966.9 292.0 967.5 293.0 968.1 294.0 968.7 295.0 969.3 296.0 968.8 297.0 968.3 298.0 967.7 299.0 967.1 300.0 966.6 301.0 965.8 302.0 964.3 303.0 961.6 304.0 958.2 305.0 953.6 306.0 948.8 307.0 945.8 307.5 945.0 308.0 945.2 309.0 948.3 310.0 953.0 311.0 957.6 312.0 962.1 313.0 965.2 314.0 967.2 315.0 968.4 316.0 968.4 317.0 968.2 318.0 968.0 319.0 967.7 320.0 967.8 321.0 967.9 322.0 968.0 323.0 968.1 324.0 968.0 325.0 967.8 326.0 967.7 327.0 967.5 328.0 967.6 329.0 967.7 330.0 967.8 331.0 967.9 332.0 967.6 333.0 967.4 334.0 967.0 335.0 966.6 336.0 966.1 337.0 965.3 338.0 964.1 339.0 962.4 340.0 961.1 341.0 959.6 342.0 958.6 343.0 958.6 344.0 958.8 345.0 959.9 346.0 961.5 347.0 963.0 348.0 965.0 349.0 966.5 350.0 967.6 351.0 968.4 352.0 968.2 353.0 967.9 354.0 967.5 355.0 967.1 356.0 967.7 357.0 968.3 358.0 968.9 359.0 969.5 360.0 969.4 361.0 969.4 362.0 969.3 363.0 969.3 364.0 969.2 365.0 969.1 366.0 969.0 367.0 968.9 368.0 968.9 369.0 968.9 370.0 968.9 371.0 968.9 372.0 968.8 373.0 968.7 374.0 968.5 375.0 968.4 376.0 968.5 377.0 968.6 378.0 968.7 379.0 968.8 380.0 968.4 381.0 967.9 382.0 967.4 383.0 967.0 384.0 967.2 385.0 967.5 386.0 967.8 387.0 968.0 388.0 968.3 389.0 968.5 390.0 968.8 391.0 969.0 392.0 968.5 393.0 968.1 394.0 967.6 395.0 967.1 396.0 967.6 397.0 968.1 398.0 968.7 399.0 969.2 400.0 969.1 401.0 969.1 402.0 969.0 403.0 968.9 404.0 968.5 405.0 968.1 406.0 967.7 407.0 967.3 408.0 967.2 409.0 967.0 410.0 966.9 411.0 966.7 412.0 966.5 413.0 966.3 414.0 966.0 415.0 965.3 416.0 963.7 417.0 960.5 418.0 954.5 419.0 944.3 420.0 930.2 421.0 913.5 422.0 899.1 423.0 893.4 424.0 899.1 425.0 913.5 426.0 930.1 427.0 944.2 428.0 954.1 429.0 959.9 430.0 962.7 431.0 963.9 432.0 964.7 433.0 965.2 434.0 965.5 435.0 965.7 436.0 966.3 437.0 966.9 438.0 967.5 439.0 968.0 440.0 968.3 441.0 968.5 442.0 968.7 443.0 969.0 444.0 968.6 445.0 968.2 446.0 967.8 447.0 967.3 448.0 967.0 449.0 966.6 450.0 965.7 451.0 964.6 452.0 963.3 453.0 962.1 454.0 961.6 455.0 962.1 456.0 963.3 457.0 964.7 458.0 965.9 459.0 966.7 460.0 966.6 461.0 966.2 462.0 965.6 463.0 964.7 464.0 964.1 465.0 962.5 466.0 958.0 467.0 948.0 468.0 929.3 469.0 903.1 470.0 877.0 471.0 865.4 472.0 877.1 473.0 903.1 474.0 929.4 475.0 948.1 476.0 958.1 477.0 962.5 478.0 964.1 479.0 964.7 480.0 965.2 481.0 965.5 482.0 965.7 483.0 965.9 484.0 966.1 485.0 966.4 486.0 966.6 487.0 966.8 488.0 967.2 489.0 967.7 490.0 968.1 491.0 968.4 492.0 967.9 493.0 967.1 494.0 966.0 495.0 964.5 496.0 963.0 497.0 960.9 498.0 958.3 499.0 955.8 500.0 953.7 500.7 953.1 501.0 953.1 502.0 954.3 503.0 956.5 504.0 959.2 505.0 961.6 506.0 963.4 507.0 964.5 508.0 965.3 509.0 965.7 510.0 965.9 511.0 966.0 512.0 966.6 513.0 967.2 514.0 967.7 515.0 968.3 516.0 968.2 517.0 968.2 518.0 968.1 519.0 968.1 520.0 967.7 521.0 967.4 522.0 967.0 523.0 966.6 524.0 966.7 525.0 966.9 526.0 967.0 527.0 967.0 528.0 966.9 529.0 966.6 530.0 966.4 531.0 966.0 532.0 965.8 533.0 965.5 534.0 965.1 535.0 964.5 536.0 963.6 537.0 962.2 538.0 960.1 539.0 955.9 540.0 945.5 541.0 921.7 542.0 873.5 543.0 794.6 544.0 697.4 545.0 619.4 545.6 604.0 546.0 611.2 547.0 679.8 548.0 777.5 549.0 861.5 550.0 915.2 551.0 942.5 552.0 954.1 553.0 958.8 554.0 960.9 555.0 962.1 556.0 963.3 557.0 964.2 558.0 964.9 559.0 965.4 560.0 965.0 561.0 964.1 562.0 962.5 563.0 960.0 564.0 956.7 565.0 952.7 566.0 948.6 567.0 945.6 567.8 944.7 568.0 944.8 569.0 946.6 570.0 950.2 571.0 954.4 572.0 958.8 573.0 962.4 574.0 965.0 575.0 966.8 576.0 967.0 577.0 966.9 578.0 966.6 579.0 966.2 580.0 966.2 581.0 966.3 582.0 966.3 583.0 966.2 584.0 966.9 585.0 967.5 586.0 968.0 587.0 968.6 588.0 968.6 589.0 968.6 590.0 968.6 591.0 968.6 592.0 968.4 593.0 968.2 594.0 968.0 595.0 967.8 596.0 968.1 597.0 968.4 598.0 968.7 599.0 968.9 600.0 968.4 601.0 967.8 602.0 967.2 603.0 966.6 604.0 966.8 605.0 966.9 606.0 967.1 607.0 967.3 608.0 967.3 609.0 967.3 610.0 967.3 611.0 967.4 612.0 967.5 613.0 967.5 614.0 967.6 615.0 967.7 616.0 967.5 617.0 967.4 618.0 967.2 619.0 967.0 620.0 966.9 621.0 966.8 622.0 966.7 623.0 966.6 624.0 966.8 625.0 967.0 626.0 967.2 627.0 967.4 628.0 967.8 629.0 968.2 630.0 968.5 631.0 968.9 632.0 969.0 633.0 969.0 634.0 969.0 635.0 969.0 636.0 968.7 637.0 968.4 638.0 968.1 639.0 967.8 640.0 967.4 641.0 967.0 642.0 966.4 643.0 965.7 644.0 964.6 645.0 962.4 646.0 958.1 647.0 950.2 648.0 938.0 649.0 921.0 650.0 901.9 651.0 886.8 651.8 881.9 652.0 882.2 653.0 891.4 654.0 909.2 655.0 928.3 656.0 944.2 657.0 955.0 658.0 961.2 659.0 964.5 660.0 965.4 661.0 965.7 662.0 965.6 663.0 965.3 664.0 965.7 665.0 966.0 666.0 966.3 667.0 966.5 668.0 967.1 669.0 967.7 670.0 968.2 671.0 968.7 672.0 968.7 673.0 968.8 674.0 968.8 675.0 968.8 676.0 968.9 677.0 968.9 678.0 969.0 679.0 969.1 680.0 968.9 681.0 968.7 682.0 968.5 683.0 968.3 684.0 968.2 685.0 968.1 686.0 968.0 687.0 967.9 688.0 968.0 689.0 968.1 690.0 968.2 691.0 968.4 692.0 968.6 693.0 968.8 694.0 969.0 695.0 969.2 696.0 968.8 697.0 968.4 698.0 968.0 699.0 967.6 700.0 967.7 701.0 967.9 702.0 968.1 703.0 968.3 704.0 968.1 705.0 967.9 706.0 967.7 707.0 967.5 708.0 967.9 709.0 968.2 710.0 968.6 711.0 969.0 712.0 968.4 713.0 967.9 714.0 967.3 715.0 966.7 716.0 967.2 717.0 967.7 718.0 968.2 719.0 968.7 720.0 968.9 721.0 969.1 722.0 969.4 723.0 969.6 724.0 968.9 725.0 968.2 726.0 967.5 727.0 966.8 728.0 967.2 729.0 967.6 730.0 968.0 731.0 968.5 732.0 968.5 733.0 968.5 734.0 968.6 735.0 968.6 736.0 968.7 737.0 968.9 738.0 969.0 739.0 969.2 740.0 969.0 741.0 968.7 742.0 968.4 743.0 968.0 744.0 967.4 745.0 966.6 746.0 965.5 747.0 964.5 748.0 964.0 748.6 963.9 749.0 964.0 750.0 964.7 751.0 965.6 752.0 966.8 753.0 967.8 754.0 968.6 755.0 969.3 756.0 969.4 757.0 969.4 758.0 969.4 759.0 969.3 760.0 968.8 761.0 968.2 762.0 967.6 763.0 967.0 764.0 967.0 765.0 967.0 766.0 967.0 767.0 966.9 768.0 966.9 769.0 966.9 770.0 966.9 771.0 966.9 772.0 966.8 773.0 966.8 774.0 966.7 775.0 966.7 776.0 967.0 777.0 967.3 778.0 967.6 779.0 967.9 780.0 967.6 781.0 967.4 782.0 967.1 783.0 966.8 784.0 967.3 785.0 967.8 786.0 968.2 787.0 968.6 788.0 968.1 789.0 967.3 790.0 965.8 791.0 963.2 792.0 959.2 793.0 954.3 794.0 949.5 795.0 946.5 795.3 946.5 796.0 947.5 797.0 951.3 798.0 956.3 799.0 960.8 800.0 963.8 801.0 965.5 802.0 966.4 803.0 966.8 804.0 967.1 805.0 967.4 806.0 967.6 807.0 967.8 808.0 967.6 809.0 967.4 810.0 967.2 811.0 967.0 812.0 967.0 813.0 967.0 814.0 966.9 815.0 966.9 816.0 966.9 817.0 966.9 818.0 966.9 819.0 966.9 820.0 967.0 821.0 967.1 822.0 967.2 823.0 967.3 824.0 967.5 825.0 967.7 826.0 967.9 827.0 968.1 828.0 967.9 829.0 967.7 830.0 967.4 831.0 967.1 832.0 966.6 833.0 965.9 834.0 965.2 835.0 964.3 836.0 963.8 837.0 962.4 838.0 958.9 839.0 951.7 840.0 938.8 841.0 920.2 842.0 898.4 843.0 879.5 844.0 871.5 845.0 879.3 846.0 898.3 847.0 920.2 848.0 938.9 849.0 951.9 850.0 959.6 851.0 963.6 852.0 965.0 853.0 965.3 854.0 965.3 855.0 965.0 856.0 965.6 857.0 966.2 858.0 966.7 859.0 967.2 860.0 967.0 861.0 966.8 862.0 966.5 863.0 966.3 864.0 966.9 865.0 967.5 866.0 968.0 867.0 968.6 868.0 968.2 869.0 967.8 870.0 967.3 871.0 966.9 872.0 967.3 873.0 967.7 874.0 968.2 875.0 968.6 876.0 968.2 877.0 967.9 878.0 967.6 879.0 967.2 880.0 967.6 881.0 967.9 882.0 968.2 883.0 968.6 884.0 968.3 885.0 968.0 886.0 967.7 887.0 967.4 888.0 967.2 889.0 967.0 890.0 966.8 891.0 966.6 892.0 966.8 893.0 967.1 894.0 967.3 895.0 967.5 896.0 967.5 897.0 967.4 898.0 967.3 899.0 967.2 900.0 967.6 901.0 968.0 902.0 968.4 903.0 968.8 904.0 968.3 905.0 967.7 906.0 967.2 907.0 966.6 908.0 966.6 909.0 966.6 910.0 966.5 911.0 966.4 912.0 966.1 913.0 965.5 914.0 964.4 915.0 962.3 916.0 958.0 917.0 949.6 918.0 935.5 919.0 915.4 920.0 891.4 921.0 871.3 921.9 863.9 922.0 863.9 923.0 873.2 924.0 894.5 925.0 918.1 926.0 937.8 927.0 951.4 928.0 959.0 929.0 962.9 930.0 964.7 931.0 965.6 932.0 966.3 933.0 966.8 934.0 967.3 935.0 967.7 936.0 968.0 937.0 968.3 938.0 968.6 939.0 968.9 940.0 968.5 941.0 968.0 942.0 967.6 943.0 967.2 944.0 967.5 945.0 967.8 946.0 968.2 947.0 968.5 948.0 968.4 949.0 968.3 950.0 968.2 951.0 968.0 952.0 968.1 953.0 968.1 954.0 968.2 955.0 968.2 956.0 967.8 957.0 967.5 958.0 967.1 959.0 966.7 960.0 967.3 961.0 967.9 962.0 968.4 963.0 969.0 964.0 969.1 965.0 969.2 966.0 969.2 967.0 969.2 968.0 968.6 969.0 967.8 970.0 966.9 971.0 965.9 972.0 965.3 973.0 964.6 974.0 964.2 975.0 964.0 976.0 964.6 977.0 965.6 978.0 966.7 979.0 967.8 980.0 967.7 981.0 967.5 982.0 967.1 983.0 966.7 984.0 966.8 985.0 966.8 986.0 966.8 987.0 966.8 988.0 966.9 989.0 966.9 990.0 966.9 991.0 966.9 992.0 967.4 993.0 968.0 994.0 968.6 995.0 969.1 996.0 969.1 997.0 969.1 998.0 969.0 999.0 969.0 1000.0 968.8 1001.0 968.5 1002.0 968.3 1003.0 968.1 1004.0 968.2 1005.0 968.3 1006.0 968.5 1007.0 968.6 1008.0 968.1 1009.0 967.7 1010.0 967.2 1011.0 966.8 1012.0 967.3 1013.0 967.7 1014.0 968.2 1015.0 968.7 1016.0 968.5 1017.0 968.4 1018.0 968.2 1019.0 968.0 1020.0 968.1 1021.0 968.2 1022.0 968.2 1023.0 968.3 1024.0 968.2 1025.0 968.1 1026.0 968.0 1027.0 967.9 1028.0 967.9 1029.0 967.9 1030.0 967.9 1031.0 967.9 1032.0 967.8 1033.0 967.6 1034.0 967.5 1035.0 967.4 1036.0 967.2 1037.0 967.1 1038.0 966.9 1039.0 966.8 1040.0 967.0 1041.0 967.2 1042.0 967.4 1043.0 967.5 1044.0 967.0 1045.0 966.4 1046.0 965.7 1047.0 965.0 1048.0 964.7 1049.0 964.6 1050.0 964.8 1051.0 965.3 1052.0 965.8 1053.0 966.5 1054.0 967.2 1055.0 967.8 1056.0 968.2 1057.0 968.4 1058.0 968.5 1059.0 968.6 1060.0 968.4 1061.0 968.3 1062.0 968.1 1063.0 967.9 1064.0 967.7 1065.0 967.5 1066.0 967.3 1067.0 967.1 1068.0 967.2 1069.0 967.2 1070.0 967.2 1071.0 967.0 1072.0 966.6 1073.0 965.8 1074.0 964.4 1075.0 962.2 1076.0 959.3 1077.0 955.8 1078.0 952.5 1079.0 950.3 1079.6 950.0 1080.0 950.3 1081.0 952.5 1082.0 956.1 1083.0 959.9 1084.0 962.5 1085.0 964.2 1086.0 965.2 1087.0 965.5 1088.0 966.4 1089.0 966.9 1090.0 967.4 1091.0 967.8 1092.0 967.9 1093.0 967.9 1094.0 968.0 1095.0 968.0 1096.0 968.2 1097.0 968.4 1098.0 968.6 1099.0 968.8 1100.0 968.9 1101.0 969.1 1102.0 969.2 1103.0 969.3 1104.0 969.3 1105.0 969.2 1106.0 969.1 1107.0 969.0 1108.0 968.9 1109.0 968.8 1110.0 968.7 1111.0 968.6 1112.0 968.7 1113.0 968.8 1114.0 968.9 1115.0 969.0 1116.0 968.9 1117.0 968.9 1118.0 968.8 1119.0 968.7 1120.0 968.9 1121.0 969.0 1122.0 969.1 1123.0 969.3 1124.0 969.2 1125.0 969.0 1126.0 968.9 1127.0 968.8 1128.0 968.7 1129.0 968.7 1130.0 968.7 1131.0 968.6 1132.0 968.1 1133.0 967.6 1134.0 966.9 1135.0 966.2 1136.0 966.1 1137.0 966.0 1138.0 965.9 1139.0 965.9 1140.0 965.4 1141.0 965.1 1142.0 965.2 1143.0 965.4 1144.0 966.2 1145.0 966.9 1146.0 967.6 1147.0 968.0 1148.0 968.4 1149.0 968.7 1150.0 968.9 1151.0 969.1 1152.0 969.3 1153.0 969.4 1154.0 969.5 1155.0 969.6 1156.0 969.6 1157.0 969.7 1158.0 969.7 1159.0 969.7 1160.0 969.0" fill="none" stroke="#A4DAF1" stroke-width="13" stroke-linejoin="round"/>
<path d="M191.0 979.7 192.0 979.0 193.0 978.4 194.0 977.8 195.0 977.2 196.0 977.1 197.0 977.0 198.0 976.9 199.0 976.9 200.0 977.6 201.0 978.3 202.0 979.0 203.0 979.8 204.0 979.2 205.0 978.6 206.0 977.9 207.0 977.3 208.0 977.3 209.0 977.2 210.0 977.2 211.0 977.1 212.0 977.5 213.0 977.9 214.0 978.3 215.0 978.7 216.0 978.5 217.0 978.3 218.0 978.0 219.0 977.8 220.0 978.2 221.0 978.6 222.0 979.0 223.0 979.4 224.0 978.9 225.0 978.5 226.0 978.0 227.0 977.5 228.0 978.0 229.0 978.6 230.0 979.1 231.0 979.6 232.0 979.2 233.0 978.7 234.0 978.2 235.0 977.7 236.0 977.9 237.0 978.1 238.0 978.4 239.0 978.6 240.0 978.8 241.0 979.1 242.0 979.3 243.0 979.6 244.0 979.4 245.0 979.2 246.0 979.0 247.0 978.8 248.0 979.0 249.0 979.2 250.0 979.4 251.0 979.5 252.0 979.4 253.0 979.2 254.0 979.0 255.0 978.9 256.0 978.4 257.0 977.9 258.0 977.4 259.0 976.9 260.0 977.5 261.0 978.1 262.0 978.8 263.0 979.4 264.0 979.2 265.0 978.9 266.0 978.7 267.0 978.5 268.0 978.3 269.0 978.1 270.0 977.9 271.0 977.7 272.0 977.6 273.0 977.5 274.0 977.4 275.0 977.3 276.0 977.8 277.0 978.3 278.0 978.8 279.0 979.3 280.0 979.0 281.0 978.8 282.0 978.6 283.0 978.4 284.0 978.7 285.0 978.9 286.0 979.2 287.0 979.5 288.0 979.3 289.0 979.2 290.0 979.0 291.0 978.9 292.0 979.0 293.0 979.1 294.0 979.2 295.0 979.3 296.0 979.0 297.0 978.6 298.0 978.2 299.0 977.7 300.0 977.5 301.0 976.9 302.0 975.6 303.0 973.2 304.0 969.3 305.0 964.1 306.0 958.8 307.0 955.1 307.5 954.5 308.0 954.9 309.0 958.2 310.0 963.1 311.0 968.0 312.0 972.4 313.0 975.4 314.0 977.3 315.0 978.5 316.0 978.4 317.0 978.1 318.0 977.7 319.0 977.3 320.0 977.7 321.0 978.1 322.0 978.4 323.0 978.8 324.0 979.0 325.0 979.1 326.0 979.2 327.0 979.4 328.0 979.1 329.0 978.9 330.0 978.6 331.0 978.4 332.0 978.0 333.0 977.5 334.0 977.0 335.0 976.5 336.0 976.6 337.0 976.4 338.0 975.8 339.0 974.8 340.0 972.7 341.0 970.5 342.0 968.8 343.0 968.0 344.0 968.3 345.0 969.6 346.0 971.3 347.0 972.9 348.0 974.3 349.0 975.3 350.0 975.9 351.0 976.2 352.0 976.8 353.0 977.3 354.0 977.7 355.0 978.1 356.0 977.7 357.0 977.4 358.0 977.0 359.0 976.7 360.0 977.4 361.0 978.0 362.0 978.7 363.0 979.4 364.0 979.1 365.0 978.8 366.0 978.5 367.0 978.2 368.0 978.2 369.0 978.2 370.0 978.2 371.0 978.2 372.0 978.1 373.0 978.0 374.0 977.9 375.0 977.9 376.0 978.0 377.0 978.2 378.0 978.4 379.0 978.6 380.0 978.8 381.0 979.0 382.0 979.2 383.0 979.4 384.0 978.9 385.0 978.4 386.0 978.0 387.0 977.5 388.0 977.5 389.0 977.6 390.0 977.6 391.0 977.7 392.0 977.8 393.0 978.0 394.0 978.1 395.0 978.2 396.0 978.0 397.0 977.8 398.0 977.5 399.0 977.3 400.0 977.5 401.0 977.7 402.0 977.9 403.0 978.1 404.0 978.0 405.0 977.9 406.0 977.8 407.0 977.7 408.0 977.5 409.0 977.3 410.0 977.1 411.0 976.9 412.0 976.8 413.0 976.7 414.0 976.5 415.0 975.9 416.0 974.3 417.0 971.1 418.0 965.0 419.0 954.7 420.0 939.8 421.0 922.4 422.0 907.1 423.0 900.7 424.0 907.5 425.0 923.0 426.0 940.8 427.0 956.1 428.0 965.7 429.0 971.3 430.0 973.9 431.0 974.9 432.0 975.7 433.0 976.2 434.0 976.5 435.0 976.7 436.0 976.9 437.0 977.0 438.0 977.0 439.0 977.1 440.0 977.5 441.0 977.9 442.0 978.4 443.0 978.8 444.0 978.8 445.0 978.8 446.0 978.8 447.0 978.7 448.0 978.1 449.0 977.3 450.0 976.1 451.0 974.6 452.0 973.2 453.0 971.9 454.0 971.3 455.0 971.6 456.0 972.5 457.0 973.5 458.0 974.3 459.0 974.7 460.0 975.6 461.0 976.2 462.0 976.6 463.0 976.7 464.0 975.3 465.0 972.8 466.0 967.6 467.0 956.7 468.0 938.3 469.0 912.4 470.0 886.7 471.0 875.3 472.0 886.8 473.0 912.7 474.0 938.7 475.0 957.3 476.0 967.6 477.0 972.3 478.0 974.2 479.0 975.1 480.0 975.6 481.0 976.0 482.0 976.2 483.0 976.4 484.0 976.4 485.0 976.4 486.0 976.4 487.0 976.3 488.0 976.2 489.0 976.1 490.0 976.0 491.0 975.8 492.0 976.0 493.0 976.0 494.0 975.8 495.0 975.1 496.0 973.6 497.0 971.5 498.0 968.9 499.0 966.4 500.0 964.4 500.7 963.9 501.0 963.9 502.0 965.2 503.0 967.6 504.0 970.0 505.0 972.2 506.0 973.8 507.0 974.8 508.0 976.0 509.0 976.8 510.0 977.4 511.0 977.8 512.0 977.4 513.0 977.0 514.0 976.5 515.0 976.0 516.0 976.3 517.0 976.5 518.0 976.7 519.0 977.0 520.0 977.2 521.0 977.5 522.0 977.7 523.0 978.0 524.0 977.9 525.0 977.9 526.0 977.8 527.0 977.8 528.0 977.2 529.0 976.7 530.0 976.1 531.0 975.4 532.0 975.3 533.0 975.1 534.0 974.8 535.0 974.4 536.0 973.1 537.0 971.5 538.0 969.0 539.0 964.5 540.0 954.5 541.0 931.1 542.0 883.4 543.0 805.0 544.0 707.4 545.0 629.0 545.6 613.3 546.0 620.4 547.0 688.6 548.0 786.6 549.0 870.9 550.0 924.9 551.0 952.6 552.0 964.3 553.0 969.1 554.0 971.3 555.0 972.5 556.0 973.3 557.0 973.8 558.0 974.1 559.0 974.1 560.0 974.2 561.0 973.8 562.0 972.7 563.0 970.7 564.0 967.4 565.0 963.4 566.0 959.4 567.0 956.4 567.8 955.5 568.0 955.5 569.0 957.2 570.0 960.7 571.0 964.7 572.0 969.0 573.0 972.4 574.0 974.9 575.0 976.5 576.0 977.3 577.0 977.7 578.0 978.0 579.0 978.2 580.0 978.1 581.0 978.1 582.0 978.0 583.0 977.9 584.0 978.2 585.0 978.5 586.0 978.8 587.0 979.0 588.0 978.4 589.0 977.7 590.0 977.0 591.0 976.4 592.0 976.8 593.0 977.1 594.0 977.5 595.0 977.9 596.0 978.0 597.0 978.1 598.0 978.2 599.0 978.3 600.0 978.1 601.0 977.9 602.0 977.7 603.0 977.5 604.0 977.4 605.0 977.2 606.0 977.1 607.0 977.0 608.0 977.4 609.0 977.8 610.0 978.2 611.0 978.6 612.0 978.4 613.0 978.2 614.0 978.0 615.0 977.8 616.0 977.7 617.0 977.5 618.0 977.4 619.0 977.3 620.0 977.1 621.0 976.9 622.0 976.7 623.0 976.5 624.0 977.2 625.0 977.9 626.0 978.6 627.0 979.3 628.0 978.8 629.0 978.3 630.0 977.8 631.0 977.3 632.0 977.1 633.0 976.8 634.0 976.6 635.0 976.4 636.0 976.4 637.0 976.3 638.0 976.3 639.0 976.2 640.0 976.0 641.0 975.8 642.0 975.5 643.0 975.0 644.0 974.5 645.0 973.0 646.0 969.3 647.0 962.1 648.0 948.8 649.0 930.8 650.0 910.6 651.0 894.4 651.8 889.9 652.0 890.2 653.0 899.9 654.0 918.1 655.0 937.5 656.0 953.2 657.0 963.7 658.0 969.6 659.0 972.6 660.0 974.3 661.0 975.4 662.0 976.1 663.0 976.7 664.0 976.7 665.0 976.7 666.0 976.6 667.0 976.5 668.0 976.7 669.0 976.9 670.0 977.1 671.0 977.2 672.0 977.6 673.0 977.9 674.0 978.3 675.0 978.6 676.0 978.8 677.0 978.9 678.0 979.1 679.0 979.2 680.0 979.2 681.0 979.1 682.0 979.1 683.0 979.0 684.0 978.5 685.0 977.9 686.0 977.3 687.0 976.7 688.0 977.0 689.0 977.2 690.0 977.5 691.0 977.7 692.0 978.1 693.0 978.5 694.0 978.8 695.0 979.2 696.0 978.6 697.0 978.0 698.0 977.4 699.0 976.8 700.0 976.9 701.0 977.0 702.0 977.1 703.0 977.3 704.0 977.5 705.0 977.7 706.0 977.9 707.0 978.1 708.0 978.1 709.0 978.0 710.0 977.9 711.0 977.8 712.0 978.1 713.0 978.4 714.0 978.7 715.0 978.9 716.0 978.9 717.0 978.9 718.0 978.9 719.0 978.8 720.0 978.7 721.0 978.5 722.0 978.3 723.0 978.1 724.0 977.9 725.0 977.8 726.0 977.6 727.0 977.4 728.0 977.4 729.0 977.4 730.0 977.4 731.0 977.4 732.0 977.4 733.0 977.4 734.0 977.4 735.0 977.5 736.0 977.3 737.0 977.1 738.0 977.0 739.0 976.8 740.0 977.2 741.0 977.6 742.0 978.0 743.0 978.3 744.0 977.5 745.0 976.5 746.0 975.4 747.0 974.2 748.0 974.1 748.6 974.4 749.0 974.6 750.0 975.7 751.0 977.0 752.0 977.6 753.0 978.1 754.0 978.3 755.0 978.3 756.0 978.0 757.0 977.6 758.0 977.2 759.0 976.8 760.0 977.1 761.0 977.5 762.0 977.8 763.0 978.1 764.0 978.2 765.0 978.3 766.0 978.4 767.0 978.4 768.0 978.0 769.0 977.6 770.0 977.2 771.0 976.7 772.0 977.1 773.0 977.4 774.0 977.7 775.0 978.1 776.0 977.7 777.0 977.3 778.0 977.0 779.0 976.6 780.0 977.1 781.0 977.7 782.0 978.2 783.0 978.7 784.0 978.1 785.0 977.4 786.0 976.8 787.0 976.0 788.0 976.2 789.0 976.0 790.0 975.1 791.0 973.2 792.0 969.8 793.0 965.5 794.0 961.4 795.0 959.1 795.3 958.9 796.0 959.7 797.0 963.1 798.0 967.6 799.0 971.7 800.0 974.4 801.0 975.9 802.0 976.4 803.0 976.5 804.0 977.0 805.0 977.3 806.0 977.6 807.0 977.9 808.0 977.6 809.0 977.4 810.0 977.1 811.0 976.8 812.0 977.0 813.0 977.1 814.0 977.3 815.0 977.4 816.0 977.8 817.0 978.2 818.0 978.5 819.0 978.9 820.0 978.9 821.0 978.8 822.0 978.7 823.0 978.7 824.0 978.0 825.0 977.3 826.0 976.7 827.0 976.0 828.0 976.2 829.0 976.4 830.0 976.5 831.0 976.6 832.0 976.6 833.0 976.5 834.0 976.4 835.0 976.1 836.0 974.8 837.0 972.5 838.0 968.1 839.0 960.1 840.0 947.5 841.0 929.3 842.0 907.9 843.0 889.3 844.0 881.5 845.0 889.4 846.0 908.6 847.0 930.5 848.0 949.0 849.0 961.7 850.0 969.2 851.0 972.9 852.0 974.7 853.0 975.5 854.0 975.9 855.0 976.1 856.0 976.7 857.0 977.3 858.0 977.8 859.0 978.3 860.0 978.2 861.0 978.0 862.0 977.8 863.0 977.6 864.0 977.5 865.0 977.3 866.0 977.1 867.0 976.9 868.0 977.0 869.0 977.0 870.0 977.1 871.0 977.2 872.0 977.1 873.0 977.1 874.0 977.0 875.0 976.9 876.0 977.4 877.0 978.0 878.0 978.5 879.0 979.0 880.0 978.7 881.0 978.5 882.0 978.3 883.0 978.0 884.0 978.1 885.0 978.3 886.0 978.4 887.0 978.6 888.0 978.6 889.0 978.7 890.0 978.8 891.0 978.9 892.0 979.0 893.0 979.1 894.0 979.2 895.0 979.3 896.0 978.7 897.0 978.1 898.0 977.5 899.0 976.8 900.0 977.0 901.0 977.1 902.0 977.2 903.0 977.3 904.0 977.6 905.0 977.8 906.0 978.1 907.0 978.3 908.0 978.1 909.0 977.8 910.0 977.5 911.0 977.2 912.0 976.5 913.0 975.6 914.0 974.3 915.0 971.8 916.0 967.4 917.0 959.0 918.0 944.7 919.0 924.5 920.0 900.9 921.0 881.0 921.9 873.9 922.0 873.9 923.0 883.5 924.0 904.4 925.0 927.6 926.0 946.9 927.0 960.0 928.0 967.7 929.0 971.5 930.0 973.4 931.0 974.2 932.0 975.0 933.0 975.6 934.0 976.1 935.0 976.6 936.0 976.7 937.0 976.7 938.0 976.7 939.0 976.7 940.0 977.0 941.0 977.3 942.0 977.5 943.0 977.8 944.0 978.2 945.0 978.5 946.0 978.9 947.0 979.3 948.0 978.7 949.0 978.1 950.0 977.5 951.0 976.9 952.0 977.2 953.0 977.6 954.0 977.9 955.0 978.2 956.0 978.4 957.0 978.7 958.0 978.9 959.0 979.1 960.0 978.9 961.0 978.7 962.0 978.5 963.0 978.3 964.0 978.3 965.0 978.2 966.0 978.0 967.0 977.9 968.0 977.9 969.0 977.7 970.0 977.5 971.0 977.1 972.0 976.0 973.0 974.8 974.0 973.8 975.0 973.1 976.0 973.9 977.0 975.1 978.0 976.4 979.0 977.7 980.0 978.1 981.0 978.3 982.0 978.4 983.0 978.4 984.0 978.6 985.0 978.8 986.0 978.9 987.0 979.0 988.0 979.1 989.0 979.1 990.0 979.1 991.0 979.1 992.0 978.6 993.0 978.1 994.0 977.5 995.0 977.0 996.0 977.0 997.0 976.9 998.0 976.9 999.0 976.9 1000.0 977.0 1001.0 977.1 1002.0 977.2 1003.0 977.2 1004.0 977.5 1005.0 977.7 1006.0 978.0 1007.0 978.2 1008.0 978.6 1009.0 978.9 1010.0 979.2 1011.0 979.5 1012.0 979.5 1013.0 979.5 1014.0 979.5 1015.0 979.5 1016.0 979.1 1017.0 978.7 1018.0 978.3 1019.0 978.0 1020.0 978.1 1021.0 978.3 1022.0 978.4 1023.0 978.6 1024.0 978.7 1025.0 978.8 1026.0 978.8 1027.0 978.9 1028.0 978.6 1029.0 978.3 1030.0 978.0 1031.0 977.7 1032.0 978.2 1033.0 978.6 1034.0 979.1 1035.0 979.6 1036.0 979.6 1037.0 979.5 1038.0 979.5 1039.0 979.4 1040.0 979.2 1041.0 979.0 1042.0 978.7 1043.0 978.3 1044.0 978.2 1045.0 977.9 1046.0 977.4 1047.0 976.9 1048.0 976.3 1049.0 975.7 1050.0 975.5 1051.0 975.6 1052.0 975.9 1053.0 976.4 1054.0 976.9 1055.0 977.3 1056.0 977.5 1057.0 977.6 1058.0 977.5 1059.0 977.4 1060.0 977.4 1061.0 977.4 1062.0 977.4 1063.0 977.3 1064.0 977.3 1065.0 977.2 1066.0 977.2 1067.0 977.1 1068.0 976.9 1069.0 976.7 1070.0 976.4 1071.0 976.0 1072.0 976.2 1073.0 976.0 1074.0 975.2 1075.0 973.6 1076.0 970.0 1077.0 966.0 1078.0 962.1 1079.0 959.3 1079.6 958.8 1080.0 958.9 1081.0 960.6 1082.0 963.7 1083.0 967.1 1084.0 970.5 1085.0 973.2 1086.0 975.0 1087.0 976.2 1088.0 976.6 1089.0 976.7 1090.0 976.7 1091.0 976.7 1092.0 977.0 1093.0 977.3 1094.0 977.6 1095.0 977.9 1096.0 977.8 1097.0 977.8 1098.0 977.7 1099.0 977.6 1100.0 977.5 1101.0 977.4 1102.0 977.3 1103.0 977.2 1104.0 977.4 1105.0 977.7 1106.0 977.9 1107.0 978.1 1108.0 978.1 1109.0 978.0 1110.0 978.0 1111.0 978.0 1112.0 977.9 1113.0 977.9 1114.0 977.8 1115.0 977.8 1116.0 978.1 1117.0 978.5 1118.0 978.8 1119.0 979.2 1120.0 978.8 1121.0 978.4 1122.0 978.0 1123.0 977.6 1124.0 977.8 1125.0 978.0 1126.0 978.1 1127.0 978.3 1128.0 978.5 1129.0 978.8 1130.0 979.0 1131.0 979.2 1132.0 979.1 1133.0 979.0 1134.0 978.7 1135.0 978.3 1136.0 977.3 1137.0 976.3 1138.0 975.2 1139.0 974.3 1140.0 973.9 1141.0 973.8 1142.0 974.0 1143.0 974.4 1144.0 975.7 1145.0 976.9 1146.0 978.1 1147.0 979.1 1148.0 978.9 1149.0 978.7 1150.0 978.5 1151.0 978.2 1152.0 978.0 1153.0 977.8 1154.0 977.6 1155.0 977.4 1156.0 977.3 1157.0 977.2 1158.0 977.2 1159.0 977.1 1160.0 977.2" fill="none" stroke="#A4DAF1" stroke-width="13" stroke-linejoin="round"/>
<path d="M191.0 1471.3 192.0 1471.4 193.0 1471.4 194.0 1471.4 195.0 1471.5 196.0 1471.5 197.0 1471.5 198.0 1471.5 199.0 1471.5 200.0 1471.4 201.0 1471.4 202.0 1471.4 203.0 1471.5 204.0 1471.5 205.0 1471.5 206.0 1471.6 207.0 1471.6 208.0 1471.6 209.0 1471.6 210.0 1471.6 211.0 1471.6 212.0 1471.5 213.0 1471.4 214.0 1471.4 215.0 1471.3 216.0 1471.2 217.0 1471.2 218.0 1471.2 219.0 1471.2 220.0 1471.2 221.0 1471.2 222.0 1471.3 223.0 1471.4 224.0 1471.5 225.0 1471.6 226.0 1471.7 227.0 1471.6 228.0 1471.5 229.0 1471.5 230.0 1471.4 231.0 1471.3 232.0 1471.3 233.0 1471.3 234.0 1471.3 235.0 1471.3 236.0 1471.3 237.0 1471.4 238.0 1471.5 239.0 1471.6 240.0 1471.7 241.0 1471.8 242.0 1471.7 243.0 1471.7 244.0 1471.6 245.0 1471.5 246.0 1471.5 247.0 1471.5 248.0 1471.6 249.0 1471.6 250.0 1471.6 251.0 1471.7 252.0 1471.6 253.0 1471.6 254.0 1471.6 255.0 1471.5 256.0 1471.5 257.0 1471.5 258.0 1471.5 259.0 1471.5 260.0 1471.5 261.0 1471.6 262.0 1471.5 263.0 1471.4 264.0 1471.4 265.0 1471.3 266.0 1471.3 267.0 1471.3 268.0 1471.4 269.0 1471.4 270.0 1471.5 271.0 1471.6 272.0 1471.6 273.0 1471.6 274.0 1471.6 275.0 1471.7 276.0 1471.7 277.0 1471.7 278.0 1471.6 279.0 1471.6 280.0 1471.5 281.0 1471.5 282.0 1471.5 283.0 1471.5 284.0 1471.6 285.0 1471.6 286.0 1471.6 287.0 1471.6 288.0 1471.6 289.0 1471.6 290.0 1471.6 291.0 1471.6 292.0 1471.5 293.0 1471.4 294.0 1471.4 295.0 1471.3 296.0 1471.2 297.0 1471.3 298.0 1471.4 299.0 1471.5 300.0 1471.5 301.0 1471.6 302.0 1471.6 303.0 1471.6 304.0 1471.6 305.0 1471.6 306.0 1471.5 307.0 1471.5 308.0 1471.5 309.0 1471.4 310.0 1471.4 311.0 1471.4 312.0 1471.3 313.0 1471.3 314.0 1471.3 315.0 1471.2 316.0 1471.2 317.0 1471.3 318.0 1471.4 319.0 1471.5 320.0 1471.6 321.0 1471.7 322.0 1471.6 323.0 1471.6 324.0 1471.5 325.0 1471.5 326.0 1471.5 327.0 1471.5 328.0 1471.5 329.0 1471.5 330.0 1471.6 331.0 1471.6 332.0 1471.6 333.0 1471.6 334.0 1471.7 335.0 1471.7 336.0 1471.7 337.0 1471.7 338.0 1471.7 339.0 1471.6 340.0 1471.6 341.0 1471.6 342.0 1471.6 343.0 1471.6 344.0 1471.7 345.0 1471.7 346.0 1471.7 347.0 1471.7 348.0 1471.6 349.0 1471.5 350.0 1471.5 351.0 1471.4 352.0 1471.4 353.0 1471.5 354.0 1471.5 355.0 1471.6 356.0 1471.6 357.0 1471.6 358.0 1471.6 359.0 1471.5 360.0 1471.5 361.0 1471.4 362.0 1471.5 363.0 1471.5 364.0 1471.6 365.0 1471.7 366.0 1471.7 367.0 1471.7 368.0 1471.7 369.0 1471.7 370.0 1471.7 371.0 1471.7 372.0 1471.6 373.0 1471.5 374.0 1471.4 375.0 1471.3 376.0 1471.2 377.0 1471.2 378.0 1471.2 379.0 1471.2 380.0 1471.2 381.0 1471.2 382.0 1471.2 383.0 1471.2 384.0 1471.3 385.0 1471.3 386.0 1471.3 387.0 1471.4 388.0 1471.5 389.0 1471.5 390.0 1471.6 391.0 1471.7 392.0 1471.7 393.0 1471.6 394.0 1471.5 395.0 1471.5 396.0 1471.4 397.0 1471.4 398.0 1471.4 399.0 1471.5 400.0 1471.5 401.0 1471.5 402.0 1471.5 403.0 1471.4 404.0 1471.4 405.0 1471.3 406.0 1471.3 407.0 1471.3 408.0 1471.3 409.0 1471.4 410.0 1471.4 411.0 1471.4 412.0 1471.4 413.0 1471.4 414.0 1471.4 415.0 1471.4 416.0 1471.3 417.0 1471.3 418.0 1471.3 419.0 1471.3 420.0 1471.3 421.0 1471.3 422.0 1471.3 423.0 1471.4 424.0 1471.4 425.0 1471.4 426.0 1471.4 427.0 1471.4 428.0 1471.4 429.0 1471.4 430.0 1471.4 431.0 1471.4 432.0 1471.5 433.0 1471.5 434.0 1471.5 435.0 1471.6 436.0 1471.6 437.0 1471.6 438.0 1471.5 439.0 1471.5 440.0 1471.5 441.0 1471.4 442.0 1471.5 443.0 1471.5 444.0 1471.5 445.0 1471.5 446.0 1471.6 447.0 1471.5 448.0 1471.5 449.0 1471.5 450.0 1471.5 451.0 1471.5 452.0 1471.5 453.0 1471.5 454.0 1471.5 455.0 1471.5 456.0 1471.5 457.0 1471.5 458.0 1471.4 459.0 1471.4 460.0 1471.3 461.0 1471.3 462.0 1471.2 463.0 1471.1 464.0 1471.0 465.0 1470.9 466.0 1470.8 467.0 1470.9 468.0 1471.0 469.0 1471.0 470.0 1471.1 471.0 1471.1 472.0 1471.1 473.0 1471.0 474.0 1471.0 475.0 1470.9 476.0 1470.9 477.0 1470.8 478.0 1470.7 479.0 1470.5 480.0 1470.4 481.0 1470.2 482.0 1469.9 483.0 1469.6 484.0 1469.3 485.0 1468.8 486.0 1468.2 487.0 1467.5 488.0 1466.4 489.0 1464.5 490.0 1459.8 491.0 1447.5 492.0 1418.8 493.0 1366.8 494.0 1299.2 495.0 1248.4 495.4 1243.0 496.0 1254.9 497.0 1312.7 498.0 1378.9 499.0 1426.2 500.0 1450.8 501.0 1461.0 502.0 1464.9 503.0 1466.5 504.0 1467.5 505.0 1468.1 506.0 1468.5 507.0 1468.9 508.0 1469.1 509.0 1469.3 510.0 1469.4 511.0 1469.5 512.0 1469.5 513.0 1469.5 514.0 1469.5 515.0 1469.5 516.0 1469.4 517.0 1469.4 518.0 1469.4 519.0 1469.4 520.0 1469.3 521.0 1469.2 522.0 1468.8 523.0 1468.4 524.0 1467.8 525.0 1467.0 526.0 1465.3 527.0 1461.1 528.0 1450.3 529.0 1426.0 530.0 1383.3 531.0 1329.9 532.0 1293.4 532.3 1291.0 533.0 1303.7 534.0 1351.3 535.0 1402.4 536.0 1437.6 537.0 1455.3 538.0 1462.4 539.0 1465.0 540.0 1466.1 541.0 1466.6 542.0 1466.8 543.0 1466.9 544.0 1466.8 545.0 1466.5 546.0 1466.1 547.0 1465.6 548.0 1464.8 549.0 1463.6 550.0 1461.8 551.0 1458.2 552.0 1449.8 553.0 1428.8 554.0 1383.1 555.0 1303.5 556.0 1199.9 557.0 1114.1 557.6 1096.7 558.0 1104.6 559.0 1179.5 560.0 1284.0 561.0 1370.3 562.0 1422.5 563.0 1447.4 564.0 1457.5 565.0 1461.7 566.0 1463.8 567.0 1465.3 568.0 1466.4 569.0 1467.2 570.0 1467.9 571.0 1468.4 572.0 1468.8 573.0 1469.0 574.0 1469.2 575.0 1469.4 576.0 1469.5 577.0 1469.7 578.0 1469.9 579.0 1470.1 580.0 1470.3 581.0 1470.5 582.0 1470.5 583.0 1470.6 584.0 1470.6 585.0 1470.6 586.0 1470.6 587.0 1470.7 588.0 1470.8 589.0 1470.9 590.0 1471.0 591.0 1471.1 592.0 1471.2 593.0 1471.2 594.0 1471.2 595.0 1471.3 596.0 1471.3 597.0 1471.3 598.0 1471.2 599.0 1471.2 600.0 1471.2 601.0 1471.1 602.0 1471.2 603.0 1471.3 604.0 1471.3 605.0 1471.4 606.0 1471.5 607.0 1471.4 608.0 1471.3 609.0 1471.3 610.0 1471.2 611.0 1471.1 612.0 1471.1 613.0 1471.1 614.0 1471.1 615.0 1471.0 616.0 1471.0 617.0 1471.1 618.0 1471.1 619.0 1471.2 620.0 1471.3 621.0 1471.3 622.0 1471.3 623.0 1471.2 624.0 1471.2 625.0 1471.1 626.0 1471.0 627.0 1471.1 628.0 1471.1 629.0 1471.1 630.0 1471.1 631.0 1471.1 632.0 1471.2 633.0 1471.2 634.0 1471.2 635.0 1471.3 636.0 1471.3 637.0 1471.3 638.0 1471.3 639.0 1471.4 640.0 1471.4 641.0 1471.4 642.0 1471.4 643.0 1471.3 644.0 1471.3 645.0 1471.2 646.0 1471.1 647.0 1471.1 648.0 1471.1 649.0 1471.1 650.0 1471.1 651.0 1471.1 652.0 1471.2 653.0 1471.3 654.0 1471.4 655.0 1471.5 656.0 1471.6 657.0 1471.5 658.0 1471.4 659.0 1471.4 660.0 1471.3 661.0 1471.2 662.0 1471.3 663.0 1471.4 664.0 1471.5 665.0 1471.5 666.0 1471.6 667.0 1471.6 668.0 1471.6 669.0 1471.6 670.0 1471.6 671.0 1471.6 672.0 1471.5 673.0 1471.4 674.0 1471.4 675.0 1471.3 676.0 1471.2 677.0 1471.2 678.0 1471.2 679.0 1471.2 680.0 1471.2 681.0 1471.2 682.0 1471.2 683.0 1471.2 684.0 1471.2 685.0 1471.2 686.0 1471.2 687.0 1471.2 688.0 1471.2 689.0 1471.2 690.0 1471.2 691.0 1471.2 692.0 1471.2 693.0 1471.1 694.0 1471.1 695.0 1471.0 696.0 1471.0 697.0 1470.9 698.0 1470.8 699.0 1470.7 700.0 1470.6 701.0 1470.5 702.0 1470.3 703.0 1470.1 704.0 1469.8 705.0 1469.4 706.0 1468.6 707.0 1467.1 708.0 1463.9 709.0 1457.7 710.0 1447.1 711.0 1431.9 712.0 1414.0 713.0 1398.5 714.0 1392.0 715.0 1398.4 716.0 1413.8 717.0 1431.7 718.0 1446.9 719.0 1457.5 720.0 1463.7 721.0 1466.9 722.0 1468.6 723.0 1469.4 724.0 1469.8 725.0 1470.2 726.0 1470.4 727.0 1470.5 728.0 1470.6 729.0 1470.6 730.0 1470.7 731.0 1470.7 732.0 1470.8 733.0 1470.8 734.0 1470.9 735.0 1470.9 736.0 1471.0 737.0 1471.1 738.0 1471.2 739.0 1471.3 740.0 1471.4 741.0 1471.5 742.0 1471.4 743.0 1471.4 744.0 1471.4 745.0 1471.3 746.0 1471.3 747.0 1471.3 748.0 1471.3 749.0 1471.3 750.0 1471.3 751.0 1471.3 752.0 1471.3 753.0 1471.2 754.0 1471.2 755.0 1471.1 756.0 1471.0 757.0 1471.1 758.0 1471.1 759.0 1471.2 760.0 1471.2 761.0 1471.3 762.0 1471.3 763.0 1471.3 764.0 1471.4 765.0 1471.4 766.0 1471.4 767.0 1471.3 768.0 1471.3 769.0 1471.2 770.0 1471.1 771.0 1471.1 772.0 1471.1 773.0 1471.2 774.0 1471.3 775.0 1471.4 776.0 1471.4 777.0 1471.4 778.0 1471.4 779.0 1471.4 780.0 1471.4 781.0 1471.4 782.0 1471.4 783.0 1471.3 784.0 1471.2 785.0 1471.2 786.0 1471.1 787.0 1471.1 788.0 1471.2 789.0 1471.3 790.0 1471.3 791.0 1471.4 792.0 1471.4 793.0 1471.4 794.0 1471.3 795.0 1471.3 796.0 1471.3 797.0 1471.3 798.0 1471.3 799.0 1471.3 800.0 1471.4 801.0 1471.4 802.0 1471.3 803.0 1471.3 804.0 1471.2 805.0 1471.2 806.0 1471.1 807.0 1471.2 808.0 1471.2 809.0 1471.2 810.0 1471.2 811.0 1471.3 812.0 1471.3 813.0 1471.2 814.0 1471.2 815.0 1471.2 816.0 1471.2 817.0 1471.0 818.0 1470.9 819.0 1470.8 820.0 1470.6 821.0 1470.5 822.0 1470.4 823.0 1470.3 824.0 1470.2 825.0 1470.1 826.0 1469.9 827.0 1469.8 828.0 1469.6 829.0 1469.4 830.0 1469.0 831.0 1468.4 832.0 1467.1 833.0 1464.5 834.0 1459.0 835.0 1448.8 836.0 1432.3 837.0 1409.8 838.0 1385.2 839.0 1366.6 839.7 1362.1 840.0 1362.9 841.0 1376.3 842.0 1399.5 843.0 1423.5 844.0 1442.7 845.0 1455.3 846.0 1462.5 847.0 1466.1 848.0 1467.9 849.0 1468.8 850.0 1469.3 851.0 1469.7 852.0 1469.9 853.0 1470.1 854.0 1470.2 855.0 1470.3 856.0 1470.4 857.0 1470.5 858.0 1470.6 859.0 1470.7 860.0 1470.7 861.0 1470.8 862.0 1470.8 863.0 1470.9 864.0 1470.9 865.0 1470.9 866.0 1470.9 867.0 1471.0 868.0 1471.0 869.0 1471.0 870.0 1471.0 871.0 1471.1 872.0 1471.1 873.0 1471.1 874.0 1471.2 875.0 1471.2 876.0 1471.3 877.0 1471.2 878.0 1471.2 879.0 1471.2 880.0 1471.1 881.0 1471.1 882.0 1471.1 883.0 1471.1 884.0 1471.1 885.0 1471.1 886.0 1471.1 887.0 1471.2 888.0 1471.2 889.0 1471.3 890.0 1471.3 891.0 1471.4 892.0 1471.3 893.0 1471.2 894.0 1471.1 895.0 1471.0 896.0 1470.9 897.0 1470.9 898.0 1471.0 899.0 1471.0 900.0 1471.1 901.0 1471.1 902.0 1471.1 903.0 1471.1 904.0 1471.1 905.0 1471.1 906.0 1471.1 907.0 1471.0 908.0 1470.8 909.0 1470.7 910.0 1470.6 911.0 1470.5 912.0 1470.3 913.0 1470.2 914.0 1470.0 915.0 1469.8 916.0 1469.5 917.0 1469.1 918.0 1468.5 919.0 1467.1 920.0 1464.2 921.0 1458.5 922.0 1448.1 923.0 1432.4 924.0 1412.8 925.0 1393.7 926.0 1382.6 926.3 1381.9 927.0 1385.6 928.0 1400.7 929.0 1420.7 930.0 1439.0 931.0 1452.5 932.0 1460.9 933.0 1465.4 934.0 1467.6 935.0 1468.7 936.0 1469.3 937.0 1469.7 938.0 1470.0 939.0 1470.2 940.0 1470.4 941.0 1470.6 942.0 1470.6 943.0 1470.6 944.0 1470.6 945.0 1470.6 946.0 1470.6 947.0 1470.6 948.0 1470.7 949.0 1470.8 950.0 1470.8 951.0 1470.8 952.0 1470.9 953.0 1470.9 954.0 1470.9 955.0 1470.9 956.0 1470.9 957.0 1470.9 958.0 1471.0 959.0 1471.0 960.0 1471.1 961.0 1471.1 962.0 1471.0 963.0 1470.9 964.0 1470.7 965.0 1470.5 966.0 1470.2 967.0 1469.8 968.0 1469.2 969.0 1468.1 970.0 1466.5 971.0 1464.4 972.0 1461.9 973.0 1459.3 974.0 1457.3 975.0 1456.2 975.2 1456.2 976.0 1456.5 977.0 1458.1 978.0 1460.4 979.0 1462.9 980.0 1465.1 981.0 1466.9 982.0 1468.2 983.0 1469.0 984.0 1469.5 985.0 1469.7 986.0 1469.7 987.0 1469.7 988.0 1469.4 989.0 1469.0 990.0 1468.0 991.0 1465.9 992.0 1461.6 993.0 1454.0 994.0 1442.2 995.0 1427.1 996.0 1412.1 997.0 1402.6 997.4 1401.6 998.0 1403.7 999.0 1414.7 1000.0 1429.9 1001.0 1444.4 1002.0 1455.1 1003.0 1461.8 1004.0 1465.3 1005.0 1466.8 1006.0 1466.9 1007.0 1465.8 1008.0 1463.0 1009.0 1457.9 1010.0 1450.5 1011.0 1441.8 1012.0 1434.1 1013.0 1430.9 1014.0 1434.2 1015.0 1442.0 1016.0 1450.9 1017.0 1458.6 1018.0 1464.0 1019.0 1467.3 1020.0 1469.0 1021.0 1469.9 1022.0 1470.3 1023.0 1470.5 1024.0 1470.7 1025.0 1470.8 1026.0 1470.9 1027.0 1470.9 1028.0 1470.9 1029.0 1470.9 1030.0 1470.9 1031.0 1470.8 1032.0 1470.9 1033.0 1470.9 1034.0 1470.9 1035.0 1471.0 1036.0 1471.0 1037.0 1471.1 1038.0 1471.2 1039.0 1471.2 1040.0 1471.3 1041.0 1471.4 1042.0 1471.4 1043.0 1471.4 1044.0 1471.3 1045.0 1471.3 1046.0 1471.3 1047.0 1471.3 1048.0 1471.3 1049.0 1471.3 1050.0 1471.3 1051.0 1471.2 1052.0 1471.1 1053.0 1470.8 1054.0 1470.4 1055.0 1469.8 1056.0 1469.0 1057.0 1468.1 1058.0 1467.0 1059.0 1466.0 1060.0 1465.2 1060.9 1465.0 1061.0 1465.0 1062.0 1465.3 1063.0 1466.2 1064.0 1467.2 1065.0 1468.3 1066.0 1469.2 1067.0 1469.9 1068.0 1470.5 1069.0 1470.9 1070.0 1471.1 1071.0 1471.3 1072.0 1471.3 1073.0 1471.3 1074.0 1471.3 1075.0 1471.2 1076.0 1471.2 1077.0 1471.2 1078.0 1471.2 1079.0 1471.2 1080.0 1471.2 1081.0 1471.3 1082.0 1471.3 1083.0 1471.3 1084.0 1471.3 1085.0 1471.3 1086.0 1471.3 1087.0 1471.3 1088.0 1471.3 1089.0 1471.3 1090.0 1471.3 1091.0 1471.3 1092.0 1471.3 1093.0 1471.3 1094.0 1471.3 1095.0 1471.3 1096.0 1471.3 1097.0 1471.4 1098.0 1471.4 1099.0 1471.5 1100.0 1471.5 1101.0 1471.6 1102.0 1471.5 1103.0 1471.4 1104.0 1471.3 1105.0 1471.2 1106.0 1471.0 1107.0 1471.0 1108.0 1470.9 1109.0 1470.9 1110.0 1470.8 1111.0 1470.6 1112.0 1470.5 1113.0 1470.3 1114.0 1469.8 1115.0 1469.2 1116.0 1468.2 1117.0 1466.8 1118.0 1465.3 1119.0 1463.7 1120.0 1462.2 1121.0 1461.3 1121.8 1461.0 1122.0 1461.1 1123.0 1461.6 1124.0 1462.8 1125.0 1464.3 1126.0 1466.0 1127.0 1467.4 1128.0 1468.6 1129.0 1469.5 1130.0 1470.1 1131.0 1470.5 1132.0 1470.8 1133.0 1471.1 1134.0 1471.2 1135.0 1471.4 1136.0 1471.5 1137.0 1471.5 1138.0 1471.5 1139.0 1471.6 1140.0 1471.6 1141.0 1471.6 1142.0 1471.5 1143.0 1471.4 1144.0 1471.4 1145.0 1471.3 1146.0 1471.2 1147.0 1471.3 1148.0 1471.4 1149.0 1471.4 1150.0 1471.5 1151.0 1471.6 1152.0 1471.6 1153.0 1471.6 1154.0 1471.6 1155.0 1471.6 1156.0 1471.6 1157.0 1471.6 1158.0 1471.6 1159.0 1471.6 1160.0 1471.6" fill="none" stroke="#F0C9A4" stroke-width="13" stroke-linejoin="round"/>
<rect x="306.7" y="1007.6" width="6" height="25.9" rx="1.5" fill="#C4DFB0"/>
<circle cx="309.2" cy="1011.2" r="0.9" fill="#000"/>
<rect x="468.9" y="980.0" width="6" height="53.5" rx="1.5" fill="#C4DFB0"/>
<circle cx="471.4" cy="983.6" r="0.9" fill="#000"/>
<rect x="542.2" y="894.3" width="6" height="139.2" rx="1.5" fill="#C4DFB0"/>
<circle cx="544.7" cy="897.9" r="0.9" fill="#000"/>
<rect x="564.8" y="1007.6" width="6" height="25.9" rx="1.5" fill="#C4DFB0"/>
<circle cx="567.3" cy="1011.2" r="0.9" fill="#000"/>
<rect x="647.0" y="992.9" width="6" height="40.6" rx="1.5" fill="#C4DFB0"/>
<circle cx="649.5" cy="996.5" r="0.9" fill="#000"/>
<rect x="788.7" y="1005.3" width="6" height="28.2" rx="1.5" fill="#C4DFB0"/>
<circle cx="791.2" cy="1008.9" r="0.9" fill="#000"/>
<rect x="837.6" y="980.0" width="6" height="53.5" rx="1.5" fill="#C4DFB0"/>
<circle cx="840.1" cy="983.6" r="0.9" fill="#000"/>
<rect x="914.5" y="968.5" width="6" height="65.0" rx="1.5" fill="#C4DFB0"/>
<circle cx="917.0" cy="972.1" r="0.9" fill="#000"/>
<rect x="958.0" y="1015.0" width="6" height="18.5" rx="1.5" fill="#C4DFB0"/>
<circle cx="960.5" cy="1018.6" r="0.9" fill="#000"/>
<rect x="1029.0" y="1012.0" width="6" height="21.5" rx="1.5" fill="#C4DFB0"/>
<circle cx="1031.5" cy="1015.6" r="0.9" fill="#000"/>
<rect x="1071.3" y="1005.3" width="6" height="28.2" rx="1.5" fill="#C4DFB0"/>
<circle cx="1073.8" cy="1008.9" r="0.9" fill="#000"/>
<rect x="1084.6" y="1012.0" width="6" height="21.5" rx="1.5" fill="#C4DFB0"/>
<circle cx="1087.1" cy="1015.6" r="0.9" fill="#000"/>
<rect x="1138.8" y="1015.0" width="6" height="18.5" rx="1.5" fill="#C4DFB0"/>
<circle cx="1141.3" cy="1018.6" r="0.9" fill="#000"/>
<rect x="492.4" y="1440.9" width="6" height="86.6" rx="1.5" fill="#8F9ACB"/>
<rect x="528.8" y="1457.4" width="6" height="70.1" rx="1.5" fill="#8F9ACB"/>
<rect x="554.6" y="1387.6" width="6" height="139.9" rx="1.5" fill="#8F9ACB"/>
<rect x="711.0" y="1483.1" width="6" height="44.4" rx="1.5" fill="#8F9ACB"/>
<rect x="836.7" y="1472.0" width="6" height="55.5" rx="1.5" fill="#8F9ACB"/>
<rect x="923.3" y="1475.1" width="6" height="52.4" rx="1.5" fill="#8F9ACB"/>
<rect x="972.2" y="1507.6" width="6" height="19.9" rx="1.5" fill="#8F9ACB"/>
<rect x="993.5" y="1483.1" width="6" height="44.4" rx="1.5" fill="#8F9ACB"/>
<rect x="1010.0" y="1498.7" width="6" height="28.8" rx="1.5" fill="#8F9ACB"/>
<rect x="1057.9" y="1509.8" width="6" height="17.7" rx="1.5" fill="#8F9ACB"/>
<rect x="1118.8" y="1507.6" width="6" height="19.9" rx="1.5" fill="#8F9ACB"/>
<line x1="781.6" y1="104.3" x2="880.4" y2="104.3" stroke="#ECAEC9" stroke-width="12.6" stroke-linecap="round"/>
<text x="905.4" y="123.7" font-size="51.0" font-weight="bold" fill="#000" textLength="53.5" lengthAdjust="spacingAndGlyphs">Fe</text>
<text x="958.9" y="134.9" font-size="30.6" font-weight="bold" fill="#000" textLength="15.2" lengthAdjust="spacingAndGlyphs">3</text>
<text x="974.1" y="123.7" font-size="51.0" font-weight="bold" fill="#000" textLength="39.4" lengthAdjust="spacingAndGlyphs">O</text>
<text x="1013.5" y="134.9" font-size="30.6" font-weight="bold" fill="#000" textLength="15.2" lengthAdjust="spacingAndGlyphs">4</text>
<text x="1028.7" y="123.7" font-size="51.0" font-weight="bold" fill="#000" textLength="115.5" lengthAdjust="spacingAndGlyphs">/ZnO</text>
<path d="M611.5 193.5L623.2 208.0L611.5 222.5L599.8 208.0Z" fill="#000"/>
<text x="630.6" y="221.2" font-size="49.5" font-weight="normal" fill="#000" textLength="454.9" lengthAdjust="spacingAndGlyphs">diffraction peaks of Fe</text>
<text x="1085.5" y="232.1" font-size="29.7" font-weight="normal" fill="#000" textLength="15.1" lengthAdjust="spacingAndGlyphs">3</text>
<text x="1100.5" y="221.2" font-size="49.5" font-weight="normal" fill="#000" textLength="36.3" lengthAdjust="spacingAndGlyphs">O</text>
<text x="1136.8" y="232.1" font-size="29.7" font-weight="normal" fill="#000" textLength="15.1" lengthAdjust="spacingAndGlyphs">4</text>
<path d="M615.40 291.25L604.50 275.95C603.20 274.15 602.90 272.25 602.90 269.95C602.90 265.75 605.70 262.75 609.20 262.75C612.20 262.75 614.10 264.95 615.40 269.15C616.70 264.95 618.60 262.75 621.60 262.75C625.10 262.75 627.90 265.75 627.90 269.95C627.90 272.25 627.60 274.15 626.30 275.95Z" fill="#000"/>
<text x="634.6" y="290.0" font-size="49.5" font-weight="normal" fill="#000" textLength="493.9" lengthAdjust="spacingAndGlyphs" >diffraction peaks of ZnO</text>
<line x1="890" y1="610" x2="987" y2="610" stroke="#A4DAF1" stroke-width="12.6" stroke-linecap="round"/>
<text x="1012.1" y="630.0" font-size="51.0" font-weight="bold" fill="#000" textLength="53.9" lengthAdjust="spacingAndGlyphs">Fe</text>
<text x="1066.1" y="641.2" font-size="30.6" font-weight="bold" fill="#000" textLength="15.3" lengthAdjust="spacingAndGlyphs">3</text>
<text x="1081.4" y="630.0" font-size="51.0" font-weight="bold" fill="#000" textLength="39.8" lengthAdjust="spacingAndGlyphs">O</text>
<text x="1121.2" y="641.2" font-size="30.6" font-weight="bold" fill="#000" textLength="15.3" lengthAdjust="spacingAndGlyphs">4</text>
<text x="652.7" y="707.7" font-size="49.5" font-weight="normal" fill="#000" textLength="435.1" lengthAdjust="spacingAndGlyphs">diffraction peak of Fe</text>
<text x="1087.8" y="718.6" font-size="29.7" font-weight="normal" fill="#000" textLength="15.1" lengthAdjust="spacingAndGlyphs">2</text>
<text x="1102.9" y="707.7" font-size="49.5" font-weight="normal" fill="#000" textLength="36.2" lengthAdjust="spacingAndGlyphs">O</text>
<text x="1139.1" y="718.6" font-size="29.7" font-weight="normal" fill="#000" textLength="15.1" lengthAdjust="spacingAndGlyphs">3</text>
<line x1="917" y1="1104" x2="1013.5" y2="1104" stroke="#F0C9A4" stroke-width="12.6" stroke-linecap="round"/>
<text x="1037.2" y="1122.4" font-size="51.0" font-weight="bold" fill="#000" textLength="100.2" lengthAdjust="spacingAndGlyphs" >ZnO</text>
<text x="204.5" y="733.5" font-size="49.0" font-weight="bold" fill="#C4DFB0" textLength="332.7" lengthAdjust="spacingAndGlyphs" >JCPDS 19-0629</text>
<text x="197.8" y="1430.0" font-size="49.0" font-weight="bold" fill="#8F9ACB" textLength="331.2" lengthAdjust="spacingAndGlyphs" >JCPDS 36-1451</text>
<text x="354.6" y="927.6" font-size="47.0" font-weight="bold" fill="#CA9709" textLength="53.4" lengthAdjust="spacingAndGlyphs">Fe</text>
<text x="408.1" y="937.9" font-size="28.2" font-weight="bold" fill="#CA9709" textLength="15.2" lengthAdjust="spacingAndGlyphs">2</text>
<text x="423.2" y="927.6" font-size="47.0" font-weight="bold" fill="#CA9709" textLength="39.4" lengthAdjust="spacingAndGlyphs">O</text>
<text x="462.6" y="937.9" font-size="28.2" font-weight="bold" fill="#CA9709" textLength="15.2" lengthAdjust="spacingAndGlyphs">3</text>
<text x="557.8" y="652.6" font-size="48.5" font-weight="bold" fill="#000" textLength="108.4" lengthAdjust="spacingAndGlyphs" >(311)</text>
<text x="424.4" y="821.5" font-size="48.8" font-weight="bold" fill="#000" textLength="108.7" lengthAdjust="spacingAndGlyphs" >(220)</text>
<text x="246.7" y="883.4" font-size="49.6" font-weight="bold" fill="#000" textLength="108.5" lengthAdjust="spacingAndGlyphs" >(111)</text>
<text x="530.8" y="899.5" font-size="49.2" font-weight="bold" fill="#000" textLength="108.9" lengthAdjust="spacingAndGlyphs" >(222)</text>
<text x="612.3" y="830.5" font-size="49.1" font-weight="bold" fill="#000" textLength="109.7" lengthAdjust="spacingAndGlyphs" >(400)</text>
<text x="747.3" y="923.6" font-size="48.5" font-weight="bold" fill="#000" textLength="109.2" lengthAdjust="spacingAndGlyphs" >(422)</text>
<text x="785.5" y="830.5" font-size="49.1" font-weight="bold" fill="#000" textLength="108.4" lengthAdjust="spacingAndGlyphs" >(511)</text>
<text x="897.5" y="803.3" font-size="51.4" font-weight="bold" fill="#000" textLength="110.1" lengthAdjust="spacingAndGlyphs" >(440)</text>
<text x="1034.3" y="878.1" font-size="50.7" font-weight="bold" fill="#000" textLength="108.3" lengthAdjust="spacingAndGlyphs" >(533)</text>
<text x="381.3" y="1263.8" font-size="48.8" font-weight="bold" fill="#000" textLength="109.7" lengthAdjust="spacingAndGlyphs" >(100)</text>
<text x="579.8" y="1142.7" font-size="50.5" font-weight="bold" fill="#000" textLength="108.7" lengthAdjust="spacingAndGlyphs" >(101)</text>
<text x="560.8" y="1326.0" font-size="49.1" font-weight="bold" fill="#000" textLength="110.1" lengthAdjust="spacingAndGlyphs" >(002)</text>
<text x="601.8" y="1437.8" font-size="50.2" font-weight="bold" fill="#000" textLength="109.0" lengthAdjust="spacingAndGlyphs" >(102)</text>
<text x="742.8" y="1404.8" font-size="50.3" font-weight="bold" fill="#000" textLength="109.5" lengthAdjust="spacingAndGlyphs" >(110)</text>
<text x="876.2" y="1326.7" font-size="50.1" font-weight="bold" fill="#000" textLength="110.0" lengthAdjust="spacingAndGlyphs" >(103)</text>
<text x="989.8" y="1354.4" font-size="51.4" font-weight="bold" fill="#000" textLength="109.9" lengthAdjust="spacingAndGlyphs" >(112)</text>
<path d="M307.5 429.5L319.1 444.5L307.5 459.5L295.9 444.5Z" fill="#000"/>
<path d="M465.2 326.0L476.8 341.0L465.2 356.0L453.6 341.0Z" fill="#000"/>
<path d="M539.8 63.9L551.4 78.9L539.8 93.9L528.2 78.9Z" fill="#000"/>
<path d="M578.5 422.8L590.1 437.8L578.5 452.8L566.9 437.8Z" fill="#000"/>
<path d="M653.6 378.4L665.2 393.4L653.6 408.4L642.0 393.4Z" fill="#000"/>
<path d="M791.7 407.3L803.3 422.3L791.7 437.3L780.1 422.3Z" fill="#000"/>
<path d="M841.9 309.1L853.5 324.1L841.9 339.1L830.3 324.1Z" fill="#000"/>
<path d="M915.2 298.4L926.8 313.4L915.2 328.4L903.6 313.4Z" fill="#000"/>
<path d="M1081.8 436.1L1093.4 451.1L1081.8 466.1L1070.2 451.1Z" fill="#000"/>
<path d="M499.90 413.25L489.00 397.95C487.70 396.15 487.40 394.25 487.40 391.95C487.40 387.75 490.20 384.75 493.70 384.75C496.70 384.75 498.60 386.95 499.90 391.15C501.20 386.95 503.10 384.75 506.10 384.75C509.60 384.75 512.40 387.75 512.40 391.95C512.40 394.25 512.10 396.15 510.80 397.95Z" fill="#000"/>
<path d="M564.30 367.45L553.40 352.15C552.10 350.35 551.80 348.45 551.80 346.15C551.80 341.95 554.60 338.95 558.10 338.95C561.10 338.95 563.00 341.15 564.30 345.35C565.60 341.15 567.50 338.95 570.50 338.95C574.00 338.95 576.80 341.95 576.80 346.15C576.80 348.45 576.50 350.35 575.20 352.15Z" fill="#000"/>
<path d="M713.10 464.35L702.20 449.05C700.90 447.25 700.60 445.35 700.60 443.05C700.60 438.85 703.40 435.85 706.90 435.85C709.90 435.85 711.80 438.05 713.10 442.25C714.40 438.05 716.30 435.85 719.30 435.85C722.80 435.85 725.60 438.85 725.60 443.05C725.60 445.35 725.30 447.25 724.00 449.05Z" fill="#000"/>
<path d="M831.70 431.95L820.80 416.65C819.50 414.85 819.20 412.95 819.20 410.65C819.20 406.45 822.00 403.45 825.50 403.45C828.50 403.45 830.40 405.65 831.70 409.85C833.00 405.65 834.90 403.45 837.90 403.45C841.40 403.45 844.20 406.45 844.20 410.65C844.20 412.95 843.90 414.85 842.60 416.65Z" fill="#000"/>
<path d="M929.90 426.65L919.00 411.35C917.70 409.55 917.40 407.65 917.40 405.35C917.40 401.15 920.20 398.15 923.70 398.15C926.70 398.15 928.60 400.35 929.90 404.55C931.20 400.35 933.10 398.15 936.10 398.15C939.60 398.15 942.40 401.15 942.40 405.35C942.40 407.65 942.10 409.55 940.80 411.35Z" fill="#000"/>
<path d="M1005.00 464.35L994.10 449.05C992.80 447.25 992.50 445.35 992.50 443.05C992.50 438.85 995.30 435.85 998.80 435.85C1001.80 435.85 1003.70 438.05 1005.00 442.25C1006.30 438.05 1008.20 435.85 1011.20 435.85C1014.70 435.85 1017.50 438.85 1017.50 443.05C1017.50 445.35 1017.20 447.25 1015.90 449.05Z" fill="#000"/>
<path d="M308.0 890.4L319.6 905.4L308.0 920.4L296.4 905.4Z" fill="#000"/>
<path d="M473.2 829.5L484.8 844.5L473.2 859.5L461.6 844.5Z" fill="#000"/>
<path d="M546.5 565.2L558.1 580.2L546.5 595.2L534.9 580.2Z" fill="#000"/>
<path d="M576.3 900.6L587.9 915.6L576.3 930.6L564.7 915.6Z" fill="#000"/>
<path d="M659.8 840.2L671.4 855.2L659.8 870.2L648.2 855.2Z" fill="#000"/>
<path d="M797.5 922.4L809.1 937.4L797.5 952.4L785.9 937.4Z" fill="#000"/>
<path d="M845.0 835.7L856.6 850.7L845.0 865.7L833.4 850.7Z" fill="#000"/>
<path d="M924.1 818.9L935.7 833.9L924.1 848.9L912.5 833.9Z" fill="#000"/>
<path d="M1081.8 897.0L1093.4 912.0L1081.8 927.0L1070.2 912.0Z" fill="#000"/>
<circle cx="422.5" cy="861.4" r="6.4" fill="#000"/>
<circle cx="413.5" cy="873.6" r="6.4" fill="#000"/>
<circle cx="431.5" cy="873.6" r="6.4" fill="#000"/>
<rect x="418.0" y="866.0" width="9" height="10" fill="#000"/>
<path d="M420.9 875.0L424.1 875.0L424.1 881.0L426.1 883.6L418.9 883.6L420.9 881.0Z" fill="#000"/>
<path d="M493.60 1236.45L482.70 1221.15C481.40 1219.35 481.10 1217.45 481.10 1215.15C481.10 1210.95 483.90 1207.95 487.40 1207.95C490.40 1207.95 492.30 1210.15 493.60 1214.35C494.90 1210.15 496.80 1207.95 499.80 1207.95C503.30 1207.95 506.10 1210.95 506.10 1215.15C506.10 1217.45 505.80 1219.35 504.50 1221.15Z" fill="#000"/>
<path d="M533.20 1283.15L522.30 1267.85C521.00 1266.05 520.70 1264.15 520.70 1261.85C520.70 1257.65 523.50 1254.65 527.00 1254.65C530.00 1254.65 531.90 1256.85 533.20 1261.05C534.50 1256.85 536.40 1254.65 539.40 1254.65C542.90 1254.65 545.70 1257.65 545.70 1261.85C545.70 1264.15 545.40 1266.05 544.10 1267.85Z" fill="#000"/>
<path d="M553.20 1089.85L542.30 1074.55C541.00 1072.75 540.70 1070.85 540.70 1068.55C540.70 1064.35 543.50 1061.35 547.00 1061.35C550.00 1061.35 551.90 1063.55 553.20 1067.75C554.50 1063.55 556.40 1061.35 559.40 1061.35C562.90 1061.35 565.70 1064.35 565.70 1068.55C565.70 1070.85 565.40 1072.75 564.10 1074.55Z" fill="#000"/>
<path d="M711.30 1377.75L700.40 1362.45C699.10 1360.65 698.80 1358.75 698.80 1356.45C698.80 1352.25 701.60 1349.25 705.10 1349.25C708.10 1349.25 710.00 1351.45 711.30 1355.65C712.60 1351.45 714.50 1349.25 717.50 1349.25C721.00 1349.25 723.80 1352.25 723.80 1356.45C723.80 1358.75 723.50 1360.65 722.20 1362.45Z" fill="#000"/>
<path d="M837.50 1354.25L826.60 1338.95C825.30 1337.15 825.00 1335.25 825.00 1332.95C825.00 1328.75 827.80 1325.75 831.30 1325.75C834.30 1325.75 836.20 1327.95 837.50 1332.15C838.80 1327.95 840.70 1325.75 843.70 1325.75C847.20 1325.75 850.00 1328.75 850.00 1332.95C850.00 1335.25 849.70 1337.15 848.40 1338.95Z" fill="#000"/>
<path d="M926.30 1374.15L915.40 1358.85C914.10 1357.05 913.80 1355.15 913.80 1352.85C913.80 1348.65 916.60 1345.65 920.10 1345.65C923.10 1345.65 925.00 1347.85 926.30 1352.05C927.60 1347.85 929.50 1345.65 932.50 1345.65C936.00 1345.65 938.80 1348.65 938.80 1352.85C938.80 1355.15 938.50 1357.05 937.20 1358.85Z" fill="#000"/>
<path d="M997.40 1388.85L986.50 1373.55C985.20 1371.75 984.90 1369.85 984.90 1367.55C984.90 1363.35 987.70 1360.35 991.20 1360.35C994.20 1360.35 996.10 1362.55 997.40 1366.75C998.70 1362.55 1000.60 1360.35 1003.60 1360.35C1007.10 1360.35 1009.90 1363.35 1009.90 1367.55C1009.90 1369.85 1009.60 1371.75 1008.30 1373.55Z" fill="#000"/>
<line x1="532.3" y1="1343.2" x2="556" y2="1332.7" stroke="#000" stroke-width="2.5"/>
<path d="M566 1328.2L552 1328.6L556.5 1338Z" fill="#000"/>
<text x="13.3" y="108.3" font-size="79.0" font-weight="bold" fill="#000" textLength="95.2" lengthAdjust="spacingAndGlyphs" >(a)</text>
<text transform="translate(67.6,868) rotate(-90)" x="-2.1" y="0" font-size="63" font-weight="bold" textLength="240.0" lengthAdjust="spacingAndGlyphs">Intensity</text>
<text x="158.7" y="1596.0" font-size="64.5" font-weight="normal" fill="#000" textLength="62.6" lengthAdjust="spacingAndGlyphs" >10</text>
<text x="298.7" y="1596.0" font-size="64.5" font-weight="normal" fill="#000" textLength="62.6" lengthAdjust="spacingAndGlyphs" >20</text>
<text x="437.2" y="1596.0" font-size="64.5" font-weight="normal" fill="#000" textLength="62.6" lengthAdjust="spacingAndGlyphs" >30</text>
<text x="576.8" y="1596.0" font-size="64.5" font-weight="normal" fill="#000" textLength="62.6" lengthAdjust="spacingAndGlyphs" >40</text>
<text x="714.2" y="1596.0" font-size="64.5" font-weight="normal" fill="#000" textLength="62.6" lengthAdjust="spacingAndGlyphs" >50</text>
<text x="853.3" y="1596.0" font-size="64.5" font-weight="normal" fill="#000" textLength="62.6" lengthAdjust="spacingAndGlyphs" >60</text>
<text x="991.3" y="1596.0" font-size="64.5" font-weight="normal" fill="#000" textLength="62.6" lengthAdjust="spacingAndGlyphs" >70</text>
<text x="1130.8" y="1596.0" font-size="64.5" font-weight="normal" fill="#000" textLength="62.6" lengthAdjust="spacingAndGlyphs" >80</text>
<text x="601.2" y="1704.8" font-size="63.0" font-weight="bold" fill="#000" textLength="33.7" lengthAdjust="spacingAndGlyphs" >2</text>
<text x="632.7" y="1704.8" font-size="63.0" font-weight="normal" fill="#000" textLength="34.3" lengthAdjust="spacingAndGlyphs" >θ</text>
<text x="683.0" y="1701.7" font-size="57.3" font-weight="bold" fill="#000" textLength="23.2" lengthAdjust="spacingAndGlyphs" >(</text>
<text x="703.8" y="1704.8" font-size="63.0" font-weight="bold" fill="#000" textLength="27.5" lengthAdjust="spacingAndGlyphs" >°</text>
<text x="729.8" y="1701.7" font-size="57.3" font-weight="bold" fill="#000" textLength="23.2" lengthAdjust="spacingAndGlyphs" >)</text>
<rect x="1337.0" y="51.0" width="977.0" height="13.0" fill="#000"/>
<rect x="1337.0" y="51.0" width="13.0" height="1483.8" fill="#000"/>
<rect x="2301.0" y="51.0" width="13.0" height="1483.8" fill="#000"/>
<rect x="1337.0" y="1522.0" width="977.0" height="12.8" fill="#000"/>
<rect x="1350.0" y="546.0" width="951.0" height="4.0" fill="#000"/>
<rect x="1350.0" y="1036.0" width="951.0" height="4.8" fill="#000"/>
<rect x="2278.8" y="529.0" width="4.0" height="17.0" fill="#000"/>
<rect x="2278.8" y="1019.0" width="4.0" height="17.0" fill="#000"/>
<rect x="2274.5" y="1509.8" width="12.6" height="12.2" fill="#000"/>
<rect x="2210.9" y="538.0" width="4.0" height="8.0" fill="#000"/>
<rect x="2210.9" y="1028.0" width="4.0" height="8.0" fill="#000"/>
<rect x="2206.6" y="1519.0" width="12.6" height="3.0" fill="#000"/>
<rect x="2143.0" y="529.0" width="4.0" height="17.0" fill="#000"/>
<rect x="2143.0" y="1019.0" width="4.0" height="17.0" fill="#000"/>
<rect x="2138.7" y="1509.8" width="12.6" height="12.2" fill="#000"/>
<rect x="2075.1" y="538.0" width="4.0" height="8.0" fill="#000"/>
<rect x="2075.1" y="1028.0" width="4.0" height="8.0" fill="#000"/>
<rect x="2070.8" y="1519.0" width="12.6" height="3.0" fill="#000"/>
<rect x="2007.2" y="529.0" width="4.0" height="17.0" fill="#000"/>
<rect x="2007.2" y="1019.0" width="4.0" height="17.0" fill="#000"/>
<rect x="2002.9" y="1509.8" width="12.6" height="12.2" fill="#000"/>
<rect x="1939.3" y="538.0" width="4.0" height="8.0" fill="#000"/>
<rect x="1939.3" y="1028.0" width="4.0" height="8.0" fill="#000"/>
<rect x="1935.0" y="1519.0" width="12.6" height="3.0" fill="#000"/>
<rect x="1871.4" y="529.0" width="4.0" height="17.0" fill="#000"/>
<rect x="1871.4" y="1019.0" width="4.0" height="17.0" fill="#000"/>
<rect x="1867.1" y="1509.8" width="12.6" height="12.2" fill="#000"/>
<rect x="1803.5" y="538.0" width="4.0" height="8.0" fill="#000"/>
<rect x="1803.5" y="1028.0" width="4.0" height="8.0" fill="#000"/>
<rect x="1799.2" y="1519.0" width="12.6" height="3.0" fill="#000"/>
<rect x="1735.6" y="529.0" width="4.0" height="17.0" fill="#000"/>
<rect x="1735.6" y="1019.0" width="4.0" height="17.0" fill="#000"/>
<rect x="1731.3" y="1509.8" width="12.6" height="12.2" fill="#000"/>
<rect x="1667.7" y="538.0" width="4.0" height="8.0" fill="#000"/>
<rect x="1667.7" y="1028.0" width="4.0" height="8.0" fill="#000"/>
<rect x="1663.4" y="1519.0" width="12.6" height="3.0" fill="#000"/>
<rect x="1599.8" y="529.0" width="4.0" height="17.0" fill="#000"/>
<rect x="1599.8" y="1019.0" width="4.0" height="17.0" fill="#000"/>
<rect x="1595.5" y="1509.8" width="12.6" height="12.2" fill="#000"/>
<rect x="1531.9" y="538.0" width="4.0" height="8.0" fill="#000"/>
<rect x="1531.9" y="1028.0" width="4.0" height="8.0" fill="#000"/>
<rect x="1527.6" y="1519.0" width="12.6" height="3.0" fill="#000"/>
<rect x="1464.0" y="529.0" width="4.0" height="17.0" fill="#000"/>
<rect x="1464.0" y="1019.0" width="4.0" height="17.0" fill="#000"/>
<rect x="1459.7" y="1509.8" width="12.6" height="12.2" fill="#000"/>
<rect x="1396.1" y="538.0" width="4.0" height="8.0" fill="#000"/>
<rect x="1396.1" y="1028.0" width="4.0" height="8.0" fill="#000"/>
<rect x="1391.8" y="1519.0" width="12.6" height="3.0" fill="#000"/>
<text x="2232.6" y="1596.5" font-size="65.0" font-weight="normal" fill="#000" textLength="95.1" lengthAdjust="spacingAndGlyphs" >500</text>
<text x="2080.1" y="1596.5" font-size="65.0" font-weight="normal" fill="#000" textLength="126.8" lengthAdjust="spacingAndGlyphs" >1000</text>
<text x="1944.3" y="1596.5" font-size="65.0" font-weight="normal" fill="#000" textLength="126.8" lengthAdjust="spacingAndGlyphs" >1500</text>
<text x="1809.9" y="1596.5" font-size="65.0" font-weight="normal" fill="#000" textLength="126.8" lengthAdjust="spacingAndGlyphs" >2000</text>
<text x="1674.1" y="1596.5" font-size="65.0" font-weight="normal" fill="#000" textLength="126.8" lengthAdjust="spacingAndGlyphs" >2500</text>
<text x="1538.1" y="1596.5" font-size="65.0" font-weight="normal" fill="#000" textLength="126.7" lengthAdjust="spacingAndGlyphs" >3000</text>
<text x="1402.3" y="1596.5" font-size="65.0" font-weight="normal" fill="#000" textLength="126.7" lengthAdjust="spacingAndGlyphs" >3500</text>
<path d="M1344.4 93.3C1348.5 92.9 1359.6 92.0 1368.9 91.1C1378.2 90.2 1390.8 87.4 1400.0 87.8C1409.2 88.2 1418.9 90.5 1424.4 93.3C1430.0 96.1 1430.7 99.6 1433.3 104.4C1435.9 109.2 1437.8 115.5 1440.0 122.2C1442.2 128.9 1444.0 137.4 1446.6 144.4C1449.2 151.4 1452.5 157.7 1455.5 164.4C1458.5 171.1 1461.4 178.5 1464.4 184.4C1467.4 190.3 1470.2 195.3 1473.3 199.9C1476.4 204.5 1480.0 211.4 1483.3 212.2C1486.6 212.9 1490.2 208.3 1493.3 204.4C1496.4 200.5 1499.1 194.7 1502.1 188.8C1505.0 182.9 1507.7 174.4 1511.0 168.8C1514.3 163.2 1518.4 159.0 1522.1 155.5C1525.8 152.0 1528.4 151.4 1533.2 147.7C1538.0 144.0 1544.3 137.7 1551.0 133.3C1557.7 128.9 1564.0 125.0 1573.2 121.1C1582.5 117.2 1597.2 112.6 1606.5 110.0C1615.8 107.4 1621.4 107.2 1628.8 105.5C1636.2 103.8 1641.8 101.7 1651.0 100.0C1660.2 98.3 1673.2 96.6 1684.3 95.5C1695.4 94.4 1704.6 94.0 1717.6 93.3C1730.5 92.6 1747.2 91.7 1762.0 91.1C1776.8 90.5 1792.6 89.8 1806.5 89.5C1820.4 89.2 1834.7 89.2 1845.4 89.0C1856.1 88.8 1862.3 88.6 1870.8 88.5C1879.3 88.4 1887.8 88.3 1896.3 88.3C1904.8 88.3 1914.1 88.1 1921.7 88.3C1929.3 88.5 1936.5 88.0 1942.0 89.2C1947.5 90.4 1951.3 92.0 1954.7 95.6C1958.1 99.2 1960.2 106.1 1962.3 110.8C1964.4 115.5 1965.7 121.0 1967.4 123.5C1969.1 126.0 1970.4 126.1 1972.5 126.1C1974.6 126.1 1977.5 125.6 1980.1 123.5C1982.6 121.4 1984.8 115.3 1987.8 113.4C1990.8 111.5 1993.7 112.3 1997.9 112.1C2002.1 111.9 2009.0 112.5 2013.2 112.1C2017.5 111.7 2020.4 109.8 2023.4 109.6C2026.4 109.4 2028.5 108.0 2031.0 110.8C2033.5 113.5 2036.5 122.7 2038.6 126.1C2040.7 129.5 2042.0 132.0 2043.7 131.2C2045.4 130.3 2045.8 124.8 2048.8 121.0C2051.8 117.2 2057.3 111.0 2061.5 108.3C2065.7 105.5 2070.0 104.9 2074.2 104.5C2078.4 104.1 2082.7 105.0 2086.9 105.8C2091.1 106.6 2095.4 108.3 2099.6 109.6C2103.8 110.9 2108.1 111.5 2112.3 113.4C2116.5 115.3 2120.8 119.1 2125.0 121.0C2129.2 122.9 2133.4 124.0 2137.7 124.8C2141.9 125.6 2146.2 125.5 2150.5 126.1C2154.8 126.7 2159.0 127.1 2163.2 128.6C2167.4 130.1 2171.7 132.9 2175.9 135.0C2180.1 137.1 2184.8 139.4 2188.6 141.3C2192.4 143.2 2195.3 143.4 2198.7 146.4C2202.1 149.4 2205.9 154.4 2208.9 159.1C2211.9 163.8 2213.9 167.6 2216.5 174.4C2219.1 181.2 2221.6 190.1 2224.2 199.8C2226.8 209.6 2229.3 222.3 2231.8 232.9C2234.3 243.5 2237.3 254.1 2239.4 263.4C2241.5 272.7 2242.8 278.2 2244.5 288.8C2246.2 299.4 2247.9 314.2 2249.6 326.9C2251.3 339.6 2253.0 353.1 2254.7 365.0C2256.4 376.9 2258.1 390.5 2259.8 398.1C2261.5 405.7 2263.1 409.5 2264.8 410.8C2266.5 412.1 2268.2 413.3 2269.9 405.7C2271.6 398.1 2273.3 374.8 2275.0 365.0C2276.7 355.2 2278.4 348.9 2280.1 347.2C2281.8 345.5 2283.5 350.2 2285.2 354.9C2286.9 359.6 2288.5 368.0 2290.2 375.2C2291.9 382.4 2293.6 392.2 2295.3 398.1C2297.0 404.0 2298.9 408.1 2300.4 410.8C2301.9 413.6 2303.1 411.6 2304.2 414.6C2305.3 417.6 2306.2 419.9 2306.8 428.6C2307.4 437.3 2307.4 460.4 2307.5 466.7" fill="none" stroke="#ECAEC9" stroke-width="13.5" stroke-linejoin="round" stroke-linecap="butt"/>
<path d="M1344.8 622.5C1349.2 622.0 1362.2 620.6 1371.5 619.3C1380.8 618.0 1393.7 615.1 1400.5 614.5C1407.3 613.9 1409.0 614.7 1412.6 615.7C1416.2 616.7 1419.5 617.7 1422.3 620.5C1425.1 623.3 1427.4 628.1 1429.6 632.6C1431.8 637.1 1433.8 642.0 1435.6 647.2C1437.4 652.5 1438.7 657.7 1440.5 664.1C1442.3 670.5 1444.3 678.2 1446.5 685.9C1448.7 693.6 1451.0 703.2 1453.8 710.1C1456.6 717.0 1460.3 721.5 1463.5 727.1C1466.7 732.8 1470.0 738.8 1473.2 744.0C1476.4 749.2 1480.1 755.9 1482.9 758.5C1485.7 761.1 1487.7 761.4 1490.1 759.8C1492.5 758.2 1495.4 753.9 1497.4 748.9C1499.4 743.9 1500.6 736.0 1502.2 729.5C1503.8 723.0 1505.1 716.4 1507.1 710.1C1509.1 703.9 1511.1 698.0 1514.3 692.0C1517.5 686.0 1521.6 679.2 1526.4 673.8C1531.2 668.3 1538.6 664.1 1543.4 659.3C1548.2 654.4 1551.1 649.2 1555.5 644.7C1559.9 640.2 1563.5 636.0 1570.0 632.6C1576.5 629.2 1588.2 625.4 1594.2 624.2C1600.2 623.0 1602.7 624.0 1606.3 625.4C1609.9 626.8 1613.2 630.2 1616.0 632.6C1618.8 635.0 1620.9 640.3 1623.3 639.9C1625.7 639.5 1627.8 631.8 1630.6 630.2C1633.4 628.6 1637.4 631.8 1640.2 630.2C1643.0 628.6 1645.1 622.9 1647.5 620.5C1649.9 618.1 1647.5 616.7 1654.8 615.7C1662.1 614.7 1679.0 614.1 1691.1 614.5C1703.2 614.9 1719.3 617.7 1727.4 618.1C1735.5 618.5 1729.4 617.5 1739.5 616.9C1749.6 616.3 1774.5 613.8 1787.9 614.5C1801.3 615.2 1810.4 619.3 1820.0 621.0C1829.6 622.7 1836.9 623.3 1845.4 624.8C1853.9 626.3 1862.3 628.4 1870.8 629.9C1879.3 631.4 1889.9 633.5 1896.3 633.7C1902.7 633.9 1904.8 631.0 1909.0 631.2C1913.2 631.4 1916.2 634.1 1921.7 635.0C1927.2 635.9 1936.9 634.8 1942.0 636.3C1947.1 637.8 1948.8 639.7 1952.2 643.9C1955.6 648.1 1959.3 655.4 1962.3 661.7C1965.3 668.1 1967.9 676.9 1970.0 682.0C1972.1 687.1 1973.4 692.6 1975.1 692.2C1976.8 691.8 1978.0 683.7 1980.1 679.5C1982.2 675.3 1984.8 668.1 1987.8 666.8C1990.8 665.5 1994.5 668.0 1997.9 671.8C2001.3 675.6 2005.1 682.8 2008.1 689.6C2011.1 696.4 2013.2 705.3 2015.7 712.5C2018.2 719.7 2021.3 727.0 2023.4 732.9C2025.5 738.8 2026.3 748.1 2028.4 748.1C2030.5 748.1 2033.5 738.0 2036.1 732.9C2038.6 727.8 2039.9 722.0 2043.7 717.6C2047.5 713.2 2053.8 707.1 2058.9 706.2C2064.0 705.4 2069.9 708.9 2074.2 712.5C2078.4 716.1 2081.9 721.0 2084.4 727.8C2086.9 734.6 2087.7 743.9 2089.4 753.2C2091.1 762.5 2092.8 774.4 2094.5 783.7C2096.2 793.0 2097.9 800.6 2099.6 809.1C2101.3 817.6 2103.0 825.2 2104.7 834.5C2106.4 843.8 2108.1 854.8 2109.8 865.0C2111.5 875.2 2113.2 880.7 2114.9 895.5C2116.6 910.3 2118.7 941.3 2120.0 954.0C2121.3 966.7 2121.9 976.0 2123.0 971.8C2124.1 967.6 2124.7 936.6 2126.3 928.6C2127.9 920.6 2130.4 920.5 2132.7 923.5C2135.0 926.5 2138.2 940.9 2140.3 946.4C2142.4 951.9 2143.7 961.6 2145.4 956.5C2147.1 951.4 2148.8 931.1 2150.5 915.9C2152.2 900.6 2153.8 882.0 2155.5 865.0C2157.2 848.0 2158.9 829.0 2160.6 814.2C2162.3 799.4 2163.1 785.0 2165.7 776.1C2168.2 767.2 2173.3 764.6 2175.9 760.8C2178.5 757.0 2179.7 761.2 2181.0 753.2C2182.3 745.2 2182.7 729.9 2183.5 712.5C2184.3 695.1 2184.7 664.2 2186.0 649.0C2187.3 633.8 2189.4 621.0 2191.1 621.0C2192.8 621.0 2194.5 633.8 2196.2 649.0C2197.9 664.2 2199.6 699.8 2201.3 712.5C2203.0 725.2 2204.7 731.6 2206.4 725.2C2208.1 718.9 2209.8 692.6 2211.5 674.4C2213.2 656.2 2214.8 628.6 2216.5 615.9C2218.2 603.2 2219.9 597.7 2221.6 598.1C2223.3 598.5 2225.4 609.6 2226.7 618.5C2228.0 627.4 2228.0 651.1 2229.3 651.5C2230.6 651.9 2232.2 622.7 2234.3 621.0C2236.4 619.3 2239.4 632.4 2242.0 641.3C2244.6 650.2 2247.5 662.5 2249.6 674.4C2251.7 686.3 2253.4 697.7 2254.7 712.5C2256.0 727.3 2256.3 744.3 2257.2 763.4C2258.0 782.5 2258.5 824.8 2259.8 826.9C2261.1 829.0 2263.1 784.6 2264.8 776.1C2266.5 767.6 2267.8 769.8 2269.9 776.1C2272.0 782.5 2274.9 794.3 2277.5 814.2C2280.1 834.1 2282.6 887.0 2285.2 895.5C2287.8 904.0 2290.7 878.5 2292.8 865.0C2294.9 851.5 2296.2 831.1 2297.9 814.2C2299.6 797.3 2301.5 782.0 2303.0 763.4C2304.5 744.8 2306.2 712.5 2306.8 702.3" fill="none" stroke="#A4DAF1" stroke-width="13.5" stroke-linejoin="round" stroke-linecap="butt"/>
<path d="M1345.6 1076.7C1348.4 1078.7 1356.5 1084.7 1362.2 1088.9C1367.9 1093.2 1374.5 1097.4 1380.0 1102.2C1385.5 1107.0 1390.3 1111.9 1395.5 1117.8C1400.7 1123.7 1406.3 1130.7 1411.1 1137.7C1415.9 1144.7 1420.7 1152.6 1424.4 1160.0C1428.1 1167.4 1430.7 1174.8 1433.3 1182.2C1435.9 1189.6 1437.8 1196.6 1440.0 1204.4C1442.2 1212.2 1444.4 1220.3 1446.6 1228.8C1448.8 1237.3 1450.7 1246.6 1453.3 1255.5C1455.9 1264.4 1459.2 1273.2 1462.2 1282.1C1465.2 1291.0 1467.8 1299.9 1471.1 1308.8C1474.4 1317.7 1478.1 1326.9 1482.2 1335.4C1486.3 1343.9 1491.1 1352.9 1495.5 1359.9C1499.9 1366.9 1504.4 1373.2 1508.8 1377.6C1513.2 1382.0 1518.0 1383.9 1522.1 1386.5C1526.2 1389.1 1529.5 1392.8 1533.2 1393.2C1536.9 1393.6 1540.3 1390.6 1544.4 1388.7C1548.5 1386.8 1552.9 1386.9 1557.7 1382.1C1562.5 1377.3 1568.4 1367.7 1573.2 1359.9C1578.0 1352.1 1582.5 1344.3 1586.6 1335.4C1590.7 1326.5 1594.4 1317.0 1597.7 1306.6C1601.0 1296.2 1603.5 1284.0 1606.5 1273.2C1609.5 1262.5 1612.4 1252.5 1615.4 1242.1C1618.4 1231.7 1621.3 1220.6 1624.3 1211.0C1627.3 1201.4 1629.9 1193.3 1633.2 1184.4C1636.5 1175.5 1640.6 1165.9 1644.3 1157.7C1648.0 1149.5 1651.3 1142.9 1655.4 1135.5C1659.5 1128.1 1663.9 1120.0 1668.7 1113.3C1673.5 1106.6 1678.4 1100.7 1684.3 1095.5C1690.2 1090.3 1696.5 1085.7 1704.3 1082.2C1712.1 1078.7 1722.0 1076.2 1730.9 1074.4C1739.8 1072.6 1748.7 1071.3 1757.6 1071.1C1766.5 1070.9 1776.0 1071.1 1784.2 1073.3C1792.4 1075.5 1800.6 1080.3 1806.5 1084.4C1812.4 1088.5 1815.9 1092.6 1819.8 1097.8C1823.7 1103.0 1826.4 1111.5 1829.7 1115.7C1833.0 1119.9 1836.6 1121.0 1839.4 1123.0C1842.2 1125.0 1844.6 1129.0 1846.6 1127.8C1848.6 1126.6 1849.5 1117.3 1851.5 1115.7C1853.5 1114.1 1856.7 1116.5 1858.7 1118.1C1860.7 1119.7 1862.0 1127.0 1863.6 1125.4C1865.2 1123.8 1865.6 1113.7 1868.4 1108.4C1871.2 1103.2 1875.2 1097.7 1880.5 1093.9C1885.8 1090.1 1893.0 1085.0 1899.9 1085.4C1906.8 1085.8 1914.8 1093.3 1921.7 1096.3C1928.6 1099.3 1936.2 1101.6 1941.1 1103.6C1945.9 1105.6 1947.6 1105.2 1950.8 1108.4C1954.0 1111.6 1957.6 1117.8 1960.4 1123.0C1963.2 1128.2 1965.3 1133.5 1967.7 1139.9C1970.1 1146.4 1972.8 1154.0 1975.0 1161.7C1977.2 1169.4 1979.4 1177.8 1981.0 1185.9C1982.6 1194.0 1983.6 1202.0 1984.6 1210.1C1985.6 1218.2 1986.1 1234.3 1987.1 1234.3C1988.1 1234.3 1989.5 1219.0 1990.7 1210.1C1991.9 1201.2 1992.7 1192.0 1994.3 1181.1C1995.9 1170.2 1998.4 1155.2 2000.4 1144.7C2002.4 1134.2 2004.2 1123.3 2006.4 1118.1C2008.6 1112.9 2011.3 1112.5 2013.7 1113.3C2016.1 1114.1 2019.2 1116.5 2021.0 1123.0C2022.8 1129.5 2023.8 1142.3 2024.6 1152.0C2025.4 1161.7 2025.0 1174.2 2025.8 1181.1C2026.6 1188.0 2027.8 1194.0 2029.4 1193.2C2031.0 1192.4 2033.9 1183.1 2035.5 1176.2C2037.1 1169.3 2037.5 1161.3 2039.1 1152.0C2040.7 1142.7 2043.4 1131.0 2045.2 1120.5C2047.0 1110.0 2048.2 1097.6 2050.0 1089.1C2051.8 1080.6 2053.7 1072.5 2056.1 1069.7C2058.5 1066.9 2062.0 1070.5 2064.6 1072.1C2067.2 1073.7 2069.8 1075.4 2071.8 1079.4C2073.8 1083.4 2075.1 1095.5 2076.7 1096.3C2078.3 1097.1 2079.5 1085.8 2081.5 1084.2C2083.5 1082.6 2086.4 1084.2 2088.8 1086.6C2091.2 1089.0 2093.8 1092.2 2096.0 1098.7C2098.2 1105.2 2100.1 1114.9 2102.1 1125.4C2104.1 1135.9 2106.3 1150.4 2108.1 1161.7C2109.9 1173.0 2112.0 1181.9 2113.0 1193.2C2114.0 1204.5 2113.6 1215.4 2114.2 1229.5C2114.8 1243.6 2115.8 1261.8 2116.6 1277.9C2117.4 1294.0 2118.0 1332.0 2119.0 1326.3C2120.0 1320.6 2121.3 1258.5 2122.7 1244.0C2124.1 1229.5 2126.3 1233.5 2127.5 1239.2C2128.7 1244.9 2128.9 1263.4 2129.9 1277.9C2130.9 1292.4 2132.4 1318.2 2133.6 1326.3C2134.8 1334.4 2136.2 1334.4 2137.2 1326.3C2138.2 1318.2 2138.8 1296.5 2139.6 1277.9C2140.4 1259.4 2141.0 1235.2 2142.0 1215.0C2143.0 1194.8 2143.7 1168.6 2145.7 1156.9C2147.7 1145.2 2151.9 1147.1 2154.1 1144.7C2156.3 1142.3 2157.4 1140.3 2159.0 1142.3C2160.6 1144.3 2161.8 1157.3 2163.8 1156.9C2165.8 1156.5 2168.9 1139.9 2171.1 1139.9C2173.3 1139.9 2175.5 1146.0 2177.1 1156.9C2178.7 1167.8 2179.6 1193.6 2180.8 1205.3C2182.0 1217.0 2182.8 1227.1 2184.4 1227.1C2186.0 1227.1 2188.7 1215.0 2190.5 1205.3C2192.3 1195.6 2193.7 1173.0 2195.3 1169.0C2196.9 1165.0 2198.6 1175.9 2200.2 1181.1C2201.8 1186.3 2203.4 1200.4 2205.0 1200.4C2206.6 1200.4 2208.2 1183.5 2209.8 1181.1C2211.4 1178.7 2213.3 1177.8 2214.7 1185.9C2216.1 1194.0 2217.3 1211.8 2218.3 1229.5C2219.3 1247.2 2219.7 1284.3 2220.7 1292.4C2221.7 1300.5 2223.0 1292.4 2224.4 1277.9C2225.8 1263.4 2227.6 1227.5 2229.2 1205.3C2230.8 1183.1 2232.4 1158.0 2234.0 1144.7C2235.6 1131.4 2237.1 1131.9 2238.9 1125.4C2240.7 1119.0 2242.1 1108.4 2244.9 1106.0C2247.7 1103.6 2252.8 1108.0 2255.8 1110.8C2258.8 1113.6 2261.1 1115.3 2263.1 1123.0C2265.1 1130.7 2266.7 1144.0 2267.9 1156.9C2269.1 1169.8 2269.3 1188.3 2270.3 1200.4C2271.3 1212.5 2272.8 1216.6 2274.0 1229.5C2275.2 1242.4 2276.4 1257.7 2277.6 1277.9C2278.8 1298.1 2279.7 1330.4 2281.3 1350.6C2282.9 1370.8 2285.7 1403.0 2287.3 1399.0C2288.9 1395.0 2289.9 1362.6 2290.9 1326.3C2291.9 1290.0 2292.6 1206.5 2293.4 1181.1C2294.2 1155.7 2294.8 1173.8 2295.8 1173.8C2296.8 1173.8 2298.2 1171.8 2299.4 1181.1C2300.6 1190.4 2301.8 1205.3 2303.0 1229.5C2304.2 1253.7 2305.7 1290.0 2306.7 1326.3C2307.7 1362.6 2308.7 1427.2 2309.1 1447.4" fill="none" stroke="#F0C9A4" stroke-width="13.5" stroke-linejoin="round" stroke-linecap="butt"/>
<line x1="1484.6" y1="110.0" x2="1484.6" y2="368.7" stroke="#FF914D" stroke-width="13" stroke-dasharray="28.5 20.5"/>
<line x1="1972.8" y1="83.0" x2="1972.8" y2="341.0" stroke="#FF914D" stroke-width="13" stroke-dasharray="28.5 20.5"/>
<line x1="1486.4" y1="681.0" x2="1486.4" y2="937.8" stroke="#FF914D" stroke-width="13" stroke-dasharray="28.5 20.5"/>
<line x1="1974.0" y1="605.5" x2="1974.0" y2="863.2" stroke="#FF914D" stroke-width="13" stroke-dasharray="28.5 20.5"/>
<line x1="1537.0" y1="1260.0" x2="1537.0" y2="1517.6" stroke="#FF914D" stroke-width="13" stroke-dasharray="28.5 20.5"/>
<line x1="1987.5" y1="1155.5" x2="1987.5" y2="1414.5" stroke="#FF914D" stroke-width="13" stroke-dasharray="28.5 20.5"/>
<line x1="2264" y1="351.8" x2="2264" y2="581" stroke="#000" stroke-width="8.4" stroke-dasharray="32 14 12 14 12 14"/>
<line x1="2260" y1="726.8" x2="2260" y2="938.5" stroke="#000" stroke-width="8.2" stroke-dasharray="32 14 12 14 12 14"/>
<line x1="2282" y1="1285.7" x2="2282" y2="1522" stroke="#000" stroke-width="8" stroke-dasharray="32 14 12 14 12 14"/>
<text x="1214.4" y="130.5" font-size="78.0" font-weight="bold" fill="#000" textLength="100.2" lengthAdjust="spacingAndGlyphs" >(b)</text>
<text x="1581.9" y="186.6" font-size="61.0" font-weight="bold" fill="#000" textLength="67.3" lengthAdjust="spacingAndGlyphs">Fe</text>
<text x="1649.2" y="200.0" font-size="36.6" font-weight="bold" fill="#000" textLength="19.1" lengthAdjust="spacingAndGlyphs">3</text>
<text x="1668.3" y="186.6" font-size="61.0" font-weight="bold" fill="#000" textLength="49.6" lengthAdjust="spacingAndGlyphs">O</text>
<text x="1718.0" y="200.0" font-size="36.6" font-weight="bold" fill="#000" textLength="19.1" lengthAdjust="spacingAndGlyphs">4</text>
<text x="1737.1" y="186.6" font-size="61.0" font-weight="bold" fill="#000" textLength="145.4" lengthAdjust="spacingAndGlyphs">/ZnO</text>
<text x="2012.5" y="232.0" font-size="45.0" font-weight="bold" fill="#000" textLength="97.5" lengthAdjust="spacingAndGlyphs" >1633</text>
<text x="1501.2" y="353.0" font-size="45.0" font-weight="bold" fill="#000" textLength="99.3" lengthAdjust="spacingAndGlyphs" >3428</text>
<text x="1860.6" y="368.7" font-size="45.0" font-weight="bold" fill="#000" textLength="324.8" lengthAdjust="spacingAndGlyphs" >C=O stretching</text>
<text x="1501.0" y="435.4" font-size="45.0" font-weight="bold" fill="#000" textLength="101.6" lengthAdjust="spacingAndGlyphs" >O−H</text>
<text x="1627.0" y="435.4" font-size="45.0" font-weight="bold" fill="#000" textLength="212.1" lengthAdjust="spacingAndGlyphs" >stretching</text>
<text x="2205.5" y="462.0" font-size="45.0" font-weight="bold" fill="#000" textLength="72.1" lengthAdjust="spacingAndGlyphs" >568</text>
<text x="2035.2" y="502.0" font-size="45.0" font-weight="bold" fill="#000" textLength="223.9" lengthAdjust="spacingAndGlyphs" >Fe-O bond</text>
<text x="1647.9" y="698.8" font-size="61.0" font-weight="bold" fill="#000" textLength="67.5" lengthAdjust="spacingAndGlyphs">Fe</text>
<text x="1715.5" y="712.2" font-size="36.6" font-weight="bold" fill="#000" textLength="19.2" lengthAdjust="spacingAndGlyphs">3</text>
<text x="1734.7" y="698.8" font-size="61.0" font-weight="bold" fill="#000" textLength="49.8" lengthAdjust="spacingAndGlyphs">O</text>
<text x="1784.5" y="712.2" font-size="36.6" font-weight="bold" fill="#000" textLength="19.2" lengthAdjust="spacingAndGlyphs">4</text>
<text x="1874.7" y="783.0" font-size="45.0" font-weight="bold" fill="#000" textLength="96.7" lengthAdjust="spacingAndGlyphs" >1625</text>
<text x="1502.1" y="873.0" font-size="45.0" font-weight="bold" fill="#000" textLength="100.5" lengthAdjust="spacingAndGlyphs" >3418</text>
<text x="2198.0" y="881.0" font-size="45.0" font-weight="bold" fill="#000" textLength="74.4" lengthAdjust="spacingAndGlyphs" >576</text>
<text x="1684.6" y="1171.0" font-size="61.0" font-weight="bold" fill="#000" textLength="127.5" lengthAdjust="spacingAndGlyphs" >ZnO</text>
<text x="2019.0" y="1333.0" font-size="45.0" font-weight="bold" fill="#000" textLength="98.8" lengthAdjust="spacingAndGlyphs" >1580</text>
<text x="1561.2" y="1450.0" font-size="45.0" font-weight="bold" fill="#000" textLength="99.6" lengthAdjust="spacingAndGlyphs" >3242</text>
<text x="2209.0" y="1459.8" font-size="45.0" font-weight="bold" fill="#000" textLength="73.1" lengthAdjust="spacingAndGlyphs" >486</text>
<text transform="translate(1271.5,1056) rotate(-90)" x="-1.0" y="0" font-size="63.8" font-weight="bold" textLength="585.7" lengthAdjust="spacingAndGlyphs">Trancemittance (a.u.)</text>
<text x="1556.8" y="1707.7" font-size="64.0" font-weight="bold" fill="#000" textLength="486.0" lengthAdjust="spacingAndGlyphs">Wavenumber (cm</text>
<text x="2042.8" y="1680.8" font-size="41.0" font-weight="bold" fill="#000" textLength="34.0" lengthAdjust="spacingAndGlyphs">-1</text>
<text x="2076.8" y="1707.7" font-size="64.0" font-weight="bold" fill="#000" textLength="21.2" lengthAdjust="spacingAndGlyphs">)</text>
</svg>
</body></html>
